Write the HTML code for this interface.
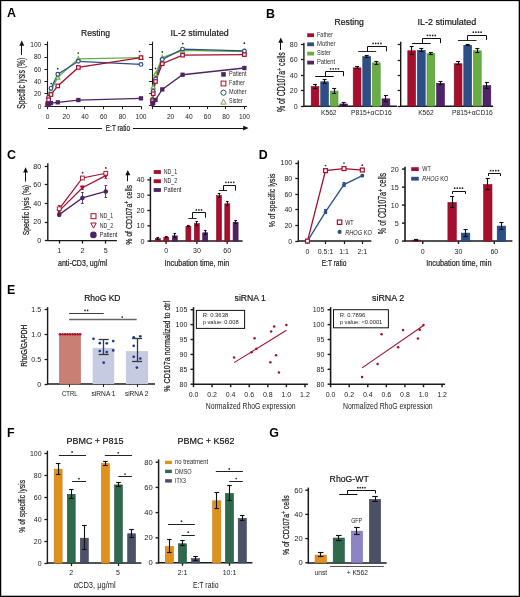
<!DOCTYPE html>
<html><head><meta charset="utf-8"><style>
html,body{margin:0;padding:0;background:#fff;}
svg{display:block;will-change:transform;}
text{font-family:"Liberation Sans", sans-serif;}
</style></head><body>
<svg width="520" height="597" viewBox="0 0 520 597" font-family='"Liberation Sans", sans-serif'>
<rect x="0" y="0" width="520" height="597" fill="#fff"/>
<rect x="0" y="0" width="520" height="1" fill="#000"/><rect x="0" y="0" width="1" height="597" fill="#000"/><rect x="519" y="0" width="1" height="597" fill="#000"/><rect x="0" y="596" width="520" height="1" fill="#000"/>
<rect x="1" y="1" width="1" height="595" fill="#000" opacity="0.25"/><rect x="1" y="1" width="518" height="1" fill="#000" opacity="0.12"/><rect x="518" y="1" width="1" height="595" fill="#000" opacity="0.3"/><rect x="1" y="595" width="517" height="1" fill="#000" opacity="0.3"/>
<text x="7.00" y="17.40" font-size="12.4" fill="#000" font-weight="bold">A</text>
<text x="266.00" y="17.50" font-size="12.4" fill="#000" font-weight="bold">B</text>
<text x="7.10" y="159.30" font-size="12.4" fill="#000" font-weight="bold">C</text>
<text x="258.70" y="158.90" font-size="12.4" fill="#000" font-weight="bold">D</text>
<text x="7.00" y="294.20" font-size="12.4" fill="#000" font-weight="bold">E</text>
<text x="7.00" y="437.20" font-size="12.4" fill="#000" font-weight="bold">F</text>
<text x="269.30" y="437.30" font-size="12.4" fill="#000" font-weight="bold">G</text>
<line x1="47.50" y1="41.50" x2="47.50" y2="106.70" stroke="#1a1a1a" stroke-width="1.1"/>
<line x1="44.50" y1="106.50" x2="47.50" y2="106.50" stroke="#1a1a1a" stroke-width="0.9900000000000001"/>
<text x="41.30" y="108.60" font-size="6.6" fill="#1c1c1c" text-anchor="end">0</text>
<line x1="44.50" y1="93.50" x2="47.50" y2="93.50" stroke="#1a1a1a" stroke-width="0.9900000000000001"/>
<text x="41.30" y="96.30" font-size="6.6" fill="#1c1c1c" text-anchor="end">20</text>
<line x1="44.50" y1="81.50" x2="47.50" y2="81.50" stroke="#1a1a1a" stroke-width="0.9900000000000001"/>
<text x="41.30" y="84.00" font-size="6.6" fill="#1c1c1c" text-anchor="end">40</text>
<line x1="44.50" y1="69.50" x2="47.50" y2="69.50" stroke="#1a1a1a" stroke-width="0.9900000000000001"/>
<text x="41.30" y="71.70" font-size="6.6" fill="#1c1c1c" text-anchor="end">60</text>
<line x1="44.50" y1="57.50" x2="47.50" y2="57.50" stroke="#1a1a1a" stroke-width="0.9900000000000001"/>
<text x="41.30" y="59.40" font-size="6.6" fill="#1c1c1c" text-anchor="end">80</text>
<line x1="44.50" y1="44.50" x2="47.50" y2="44.50" stroke="#1a1a1a" stroke-width="0.9900000000000001"/>
<text x="41.30" y="47.10" font-size="6.6" fill="#1c1c1c" text-anchor="end">100</text>
<line x1="47.00" y1="106.50" x2="141.50" y2="106.50" stroke="#1a1a1a" stroke-width="1.1"/>
<line x1="47.50" y1="106.20" x2="47.50" y2="109.20" stroke="#1a1a1a" stroke-width="0.9900000000000001"/>
<text x="47.50" y="118.60" font-size="6.6" fill="#1c1c1c" text-anchor="middle">0</text>
<line x1="66.50" y1="106.20" x2="66.50" y2="109.20" stroke="#1a1a1a" stroke-width="0.9900000000000001"/>
<text x="66.20" y="118.60" font-size="6.6" fill="#1c1c1c" text-anchor="middle">20</text>
<line x1="84.50" y1="106.20" x2="84.50" y2="109.20" stroke="#1a1a1a" stroke-width="0.9900000000000001"/>
<text x="84.90" y="118.60" font-size="6.6" fill="#1c1c1c" text-anchor="middle">40</text>
<line x1="103.50" y1="106.20" x2="103.50" y2="109.20" stroke="#1a1a1a" stroke-width="0.9900000000000001"/>
<text x="103.60" y="118.60" font-size="6.6" fill="#1c1c1c" text-anchor="middle">60</text>
<line x1="122.50" y1="106.20" x2="122.50" y2="109.20" stroke="#1a1a1a" stroke-width="0.9900000000000001"/>
<text x="122.30" y="118.60" font-size="6.6" fill="#1c1c1c" text-anchor="middle">80</text>
<line x1="141.50" y1="106.20" x2="141.50" y2="109.20" stroke="#1a1a1a" stroke-width="0.9900000000000001"/>
<text x="141.00" y="118.60" font-size="6.6" fill="#1c1c1c" text-anchor="middle">100</text>
<text x="95.55" y="35.90" font-size="9.6" fill="#111" stroke="#111" stroke-width="0.18" text-anchor="middle" textLength="28.90" lengthAdjust="spacingAndGlyphs">Resting</text>
<text x="24.90" y="83.20" font-size="10.0" fill="#1c1c1c" stroke="#1c1c1c" stroke-width="0.22" text-anchor="middle" textLength="51.00" lengthAdjust="spacingAndGlyphs" transform="rotate(-90 24.90 83.20)">Specific lysis (%)</text>
<line x1="21.50" y1="55.00" x2="21.50" y2="45.30" stroke="#111" stroke-width="1.0"/>
<polygon points="21.80,40.60 19.35,45.80 24.25,45.80" fill="#111"/>
<line x1="152.50" y1="41.70" x2="152.50" y2="106.40" stroke="#1a1a1a" stroke-width="1.1"/>
<line x1="149.10" y1="105.50" x2="152.10" y2="105.50" stroke="#1a1a1a" stroke-width="0.9900000000000001"/>
<line x1="149.10" y1="93.50" x2="152.10" y2="93.50" stroke="#1a1a1a" stroke-width="0.9900000000000001"/>
<line x1="149.10" y1="81.50" x2="152.10" y2="81.50" stroke="#1a1a1a" stroke-width="0.9900000000000001"/>
<line x1="149.10" y1="69.50" x2="152.10" y2="69.50" stroke="#1a1a1a" stroke-width="0.9900000000000001"/>
<line x1="149.10" y1="57.50" x2="152.10" y2="57.50" stroke="#1a1a1a" stroke-width="0.9900000000000001"/>
<line x1="149.10" y1="44.50" x2="152.10" y2="44.50" stroke="#1a1a1a" stroke-width="0.9900000000000001"/>
<line x1="151.60" y1="106.50" x2="247.00" y2="106.50" stroke="#1a1a1a" stroke-width="1.1"/>
<line x1="152.50" y1="106.10" x2="152.50" y2="109.10" stroke="#1a1a1a" stroke-width="0.9900000000000001"/>
<line x1="170.50" y1="106.10" x2="170.50" y2="109.10" stroke="#1a1a1a" stroke-width="0.9900000000000001"/>
<text x="170.56" y="118.60" font-size="6.6" fill="#1c1c1c" text-anchor="middle">20</text>
<line x1="189.50" y1="106.10" x2="189.50" y2="109.10" stroke="#1a1a1a" stroke-width="0.9900000000000001"/>
<text x="189.02" y="118.60" font-size="6.6" fill="#1c1c1c" text-anchor="middle">40</text>
<line x1="207.50" y1="106.10" x2="207.50" y2="109.10" stroke="#1a1a1a" stroke-width="0.9900000000000001"/>
<text x="207.48" y="118.60" font-size="6.6" fill="#1c1c1c" text-anchor="middle">60</text>
<line x1="225.50" y1="106.10" x2="225.50" y2="109.10" stroke="#1a1a1a" stroke-width="0.9900000000000001"/>
<text x="225.94" y="118.60" font-size="6.6" fill="#1c1c1c" text-anchor="middle">80</text>
<line x1="244.50" y1="106.10" x2="244.50" y2="109.10" stroke="#1a1a1a" stroke-width="0.9900000000000001"/>
<text x="244.40" y="118.60" font-size="6.6" fill="#1c1c1c" text-anchor="middle">100</text>
<text x="199.70" y="36.30" font-size="9.6" fill="#111" stroke="#111" stroke-width="0.18" text-anchor="middle" textLength="58.20" lengthAdjust="spacingAndGlyphs">IL-2 stimulated</text>
<line x1="48.00" y1="128.50" x2="101.90" y2="128.50" stroke="#111" stroke-width="1.0"/>
<text x="117.90" y="131.00" font-size="9.8" fill="#1c1c1c" stroke="#1c1c1c" stroke-width="0.22" text-anchor="middle" textLength="24.20" lengthAdjust="spacingAndGlyphs">E:T ratio</text>
<line x1="133.00" y1="128.50" x2="245.00" y2="128.50" stroke="#111" stroke-width="1.0"/>
<polygon points="248.6,128.1 243.2,125.8 243.2,130.4" fill="#111"/>
<polyline points="47.87,103.12 48.62,96.36 50.96,90.83 57.78,77.30 78.36,58.85 141.00,57.62" stroke="#69ad44" stroke-width="1.3" fill="none" stroke-linejoin="miter"/>
<polyline points="47.87,103.12 48.62,97.28 50.96,88.37 57.78,74.22 78.36,61.30 141.00,64.38" stroke="#2d4f88" stroke-width="1.3" fill="none" stroke-linejoin="miter"/>
<polyline points="47.87,103.74 48.62,99.74 50.96,94.52 57.78,85.91 78.36,67.46 141.00,57.62" stroke="#a50f2d" stroke-width="1.3" fill="none" stroke-linejoin="miter"/>
<polyline points="47.87,104.97 48.62,104.36 50.96,103.12 57.78,102.33 78.36,100.05 141.00,98.33" stroke="#4f2466" stroke-width="1.3" fill="none" stroke-linejoin="miter"/>
<polygon points="47.87,101.03 45.87,104.92 49.87,104.92" fill="#fff" stroke="#69ad44" stroke-width="1.2"/>
<polygon points="48.62,94.26 46.62,98.16 50.62,98.16" fill="#fff" stroke="#69ad44" stroke-width="1.2"/>
<polygon points="50.96,88.73 48.96,92.62 52.96,92.62" fill="#fff" stroke="#69ad44" stroke-width="1.2"/>
<polygon points="57.78,75.20 55.78,79.09 59.78,79.09" fill="#fff" stroke="#69ad44" stroke-width="1.2"/>
<polygon points="78.36,56.75 76.36,60.65 80.36,60.65" fill="#fff" stroke="#69ad44" stroke-width="1.2"/>
<polygon points="141.00,55.52 139.00,59.41 143.00,59.41" fill="#fff" stroke="#69ad44" stroke-width="1.2"/>
<circle cx="47.87" cy="103.12" r="1.85" fill="#fff" stroke="#2d4f88" stroke-width="1.2"/>
<circle cx="48.62" cy="97.28" r="1.85" fill="#fff" stroke="#2d4f88" stroke-width="1.2"/>
<circle cx="50.96" cy="88.37" r="1.85" fill="#fff" stroke="#2d4f88" stroke-width="1.2"/>
<circle cx="57.78" cy="74.22" r="1.85" fill="#fff" stroke="#2d4f88" stroke-width="1.2"/>
<circle cx="78.36" cy="61.30" r="1.85" fill="#fff" stroke="#2d4f88" stroke-width="1.2"/>
<circle cx="141.00" cy="64.38" r="1.85" fill="#fff" stroke="#2d4f88" stroke-width="1.2"/>
<rect x="46.12" y="101.99" width="3.50" height="3.50" fill="#fff" stroke="#a50f2d" stroke-width="1.2"/>
<rect x="46.87" y="97.99" width="3.50" height="3.50" fill="#fff" stroke="#a50f2d" stroke-width="1.2"/>
<rect x="49.21" y="92.77" width="3.50" height="3.50" fill="#fff" stroke="#a50f2d" stroke-width="1.2"/>
<rect x="56.03" y="84.16" width="3.50" height="3.50" fill="#fff" stroke="#a50f2d" stroke-width="1.2"/>
<rect x="76.61" y="65.71" width="3.50" height="3.50" fill="#fff" stroke="#a50f2d" stroke-width="1.2"/>
<rect x="139.25" y="55.87" width="3.50" height="3.50" fill="#fff" stroke="#a50f2d" stroke-width="1.2"/>
<rect x="45.72" y="102.82" width="4.30" height="4.30" fill="#4f2466"/>
<rect x="46.47" y="102.20" width="4.30" height="4.30" fill="#4f2466"/>
<rect x="48.81" y="100.97" width="4.30" height="4.30" fill="#4f2466"/>
<rect x="55.63" y="100.18" width="4.30" height="4.30" fill="#4f2466"/>
<rect x="76.20" y="97.90" width="4.30" height="4.30" fill="#4f2466"/>
<rect x="138.85" y="96.18" width="4.30" height="4.30" fill="#4f2466"/>
<polyline points="152.47,98.57 153.21,86.96 155.52,74.13 162.25,57.63 182.56,50.30 244.40,51.52" stroke="#69ad44" stroke-width="1.3" fill="none" stroke-linejoin="miter"/>
<polyline points="152.47,99.79 153.21,91.24 155.52,79.02 162.25,59.46 182.56,49.08 244.40,50.91" stroke="#2d4f88" stroke-width="1.3" fill="none" stroke-linejoin="miter"/>
<polyline points="152.47,100.83 153.21,93.68 155.52,81.46 162.25,63.74 182.56,55.19 244.40,54.58" stroke="#a50f2d" stroke-width="1.3" fill="none" stroke-linejoin="miter"/>
<polyline points="152.47,103.70 153.21,102.84 155.52,99.97 162.25,89.40 182.56,74.74 244.40,68.02" stroke="#4f2466" stroke-width="1.3" fill="none" stroke-linejoin="miter"/>
<polygon points="152.47,96.47 150.47,100.37 154.47,100.37" fill="#fff" stroke="#69ad44" stroke-width="1.2"/>
<polygon points="153.21,84.86 151.21,88.76 155.21,88.76" fill="#fff" stroke="#69ad44" stroke-width="1.2"/>
<polygon points="155.52,72.03 153.52,75.93 157.52,75.93" fill="#fff" stroke="#69ad44" stroke-width="1.2"/>
<polygon points="162.25,55.53 160.25,59.43 164.25,59.43" fill="#fff" stroke="#69ad44" stroke-width="1.2"/>
<polygon points="182.56,48.20 180.56,52.10 184.56,52.10" fill="#fff" stroke="#69ad44" stroke-width="1.2"/>
<polygon points="244.40,49.42 242.40,53.32 246.40,53.32" fill="#fff" stroke="#69ad44" stroke-width="1.2"/>
<circle cx="152.47" cy="99.79" r="1.85" fill="#fff" stroke="#2d4f88" stroke-width="1.2"/>
<circle cx="153.21" cy="91.24" r="1.85" fill="#fff" stroke="#2d4f88" stroke-width="1.2"/>
<circle cx="155.52" cy="79.02" r="1.85" fill="#fff" stroke="#2d4f88" stroke-width="1.2"/>
<circle cx="162.25" cy="59.46" r="1.85" fill="#fff" stroke="#2d4f88" stroke-width="1.2"/>
<circle cx="182.56" cy="49.08" r="1.85" fill="#fff" stroke="#2d4f88" stroke-width="1.2"/>
<circle cx="244.40" cy="50.91" r="1.85" fill="#fff" stroke="#2d4f88" stroke-width="1.2"/>
<rect x="150.72" y="99.08" width="3.50" height="3.50" fill="#fff" stroke="#a50f2d" stroke-width="1.2"/>
<rect x="151.46" y="91.93" width="3.50" height="3.50" fill="#fff" stroke="#a50f2d" stroke-width="1.2"/>
<rect x="153.77" y="79.71" width="3.50" height="3.50" fill="#fff" stroke="#a50f2d" stroke-width="1.2"/>
<rect x="160.50" y="61.99" width="3.50" height="3.50" fill="#fff" stroke="#a50f2d" stroke-width="1.2"/>
<rect x="180.81" y="53.44" width="3.50" height="3.50" fill="#fff" stroke="#a50f2d" stroke-width="1.2"/>
<rect x="242.65" y="52.83" width="3.50" height="3.50" fill="#fff" stroke="#a50f2d" stroke-width="1.2"/>
<rect x="150.32" y="101.55" width="4.30" height="4.30" fill="#4f2466"/>
<rect x="151.06" y="100.69" width="4.30" height="4.30" fill="#4f2466"/>
<rect x="153.37" y="97.82" width="4.30" height="4.30" fill="#4f2466"/>
<rect x="160.10" y="87.25" width="4.30" height="4.30" fill="#4f2466"/>
<rect x="180.41" y="72.59" width="4.30" height="4.30" fill="#4f2466"/>
<rect x="242.25" y="65.87" width="4.30" height="4.30" fill="#4f2466"/>
<circle cx="51.20" cy="83.50" r="0.85" fill="#222"/>
<circle cx="57.70" cy="68.70" r="0.85" fill="#222"/>
<circle cx="78.30" cy="53.10" r="0.85" fill="#222"/>
<circle cx="139.60" cy="51.50" r="0.85" fill="#222"/>
<circle cx="155.50" cy="68.40" r="0.85" fill="#222"/>
<circle cx="162.30" cy="51.90" r="0.85" fill="#222"/>
<circle cx="182.80" cy="43.60" r="0.85" fill="#222"/>
<circle cx="244.30" cy="43.20" r="0.85" fill="#222"/>
<rect x="221.20" y="72.10" width="4.60" height="4.60" fill="#4f2466"/>
<text x="229.10" y="76.00" font-size="6.4" fill="#2a2a2a" textLength="17.40" lengthAdjust="spacingAndGlyphs">Patient</text>
<rect x="221.10" y="81.10" width="4.80" height="4.80" fill="#fff" stroke="#a50f2d" stroke-width="1.0"/>
<text x="229.10" y="85.10" font-size="6.4" fill="#2a2a2a" textLength="15.60" lengthAdjust="spacingAndGlyphs">Father</text>
<circle cx="223.50" cy="92.70" r="2.60" fill="#fff" stroke="#2d4f88" stroke-width="1.0"/>
<text x="229.10" y="94.30" font-size="6.4" fill="#2a2a2a" textLength="17.40" lengthAdjust="spacingAndGlyphs">Mother</text>
<polygon points="223.50,99.16 220.90,104.14 226.10,104.14" fill="#fff" stroke="#69ad44" stroke-width="1.0"/>
<text x="229.10" y="103.40" font-size="6.4" fill="#2a2a2a" textLength="13.60" lengthAdjust="spacingAndGlyphs">Sister</text>
<line x1="303.90" y1="42.80" x2="303.90" y2="106.80" stroke="#1a1a1a" stroke-width="1.4"/>
<line x1="300.90" y1="106.50" x2="303.90" y2="106.50" stroke="#1a1a1a" stroke-width="1.26"/>
<text x="297.60" y="108.70" font-size="7.0" fill="#1c1c1c" text-anchor="end">0</text>
<line x1="300.90" y1="90.50" x2="303.90" y2="90.50" stroke="#1a1a1a" stroke-width="1.26"/>
<text x="297.60" y="93.20" font-size="7.0" fill="#1c1c1c" text-anchor="end">20</text>
<line x1="300.90" y1="75.50" x2="303.90" y2="75.50" stroke="#1a1a1a" stroke-width="1.26"/>
<text x="297.60" y="77.70" font-size="7.0" fill="#1c1c1c" text-anchor="end">40</text>
<line x1="300.90" y1="59.50" x2="303.90" y2="59.50" stroke="#1a1a1a" stroke-width="1.26"/>
<text x="297.60" y="62.20" font-size="7.0" fill="#1c1c1c" text-anchor="end">60</text>
<line x1="300.90" y1="44.50" x2="303.90" y2="44.50" stroke="#1a1a1a" stroke-width="1.26"/>
<text x="297.60" y="46.70" font-size="7.0" fill="#1c1c1c" text-anchor="end">80</text>
<line x1="303.40" y1="106.20" x2="397.00" y2="106.20" stroke="#1a1a1a" stroke-width="1.4"/>
<text x="349.20" y="24.70" font-size="9.6" fill="#111" stroke="#111" stroke-width="0.18" text-anchor="middle" textLength="29.20" lengthAdjust="spacingAndGlyphs">Resting</text>
<text x="285.10" y="82.10" font-size="10.0" fill="#1c1c1c" stroke="#1c1c1c" stroke-width="0.22" text-anchor="middle" textLength="59.80" lengthAdjust="spacingAndGlyphs" transform="rotate(-90 285.10 82.10)">% of CD107a<tspan baseline-shift="super" font-size="7">+</tspan> cells</text>
<line x1="280.50" y1="50.00" x2="280.50" y2="42.20" stroke="#111" stroke-width="1.0"/>
<polygon points="280.80,37.50 278.35,42.70 283.25,42.70" fill="#111"/>
<rect x="311.20" y="86.45" width="7.70" height="19.85" fill="#a50f2d" stroke="#8c0a24" stroke-width="0.6"/>
<line x1="315.50" y1="84.29" x2="315.50" y2="88.01" stroke="#111" stroke-width="1.1"/>
<line x1="313.05" y1="84.50" x2="317.05" y2="84.50" stroke="#111" stroke-width="1.1"/>
<line x1="313.05" y1="88.50" x2="317.05" y2="88.50" stroke="#111" stroke-width="1.1"/>
<rect x="320.75" y="81.80" width="7.70" height="24.50" fill="#2d4f88" stroke="#1e3a6c" stroke-width="0.6"/>
<line x1="324.50" y1="79.33" x2="324.50" y2="83.67" stroke="#111" stroke-width="1.1"/>
<line x1="322.60" y1="79.50" x2="326.60" y2="79.50" stroke="#111" stroke-width="1.1"/>
<line x1="322.60" y1="83.50" x2="326.60" y2="83.50" stroke="#111" stroke-width="1.1"/>
<rect x="330.30" y="91.10" width="7.70" height="15.20" fill="#69ad44" stroke="#4f9030" stroke-width="0.6"/>
<line x1="334.50" y1="88.09" x2="334.50" y2="93.51" stroke="#111" stroke-width="1.1"/>
<line x1="332.15" y1="88.50" x2="336.15" y2="88.50" stroke="#111" stroke-width="1.1"/>
<line x1="332.15" y1="93.50" x2="336.15" y2="93.50" stroke="#111" stroke-width="1.1"/>
<rect x="339.85" y="103.96" width="7.70" height="2.34" fill="#4f2466" stroke="#3a1250" stroke-width="0.6"/>
<line x1="343.50" y1="102.11" x2="343.50" y2="105.22" stroke="#111" stroke-width="1.1"/>
<line x1="341.70" y1="102.50" x2="345.70" y2="102.50" stroke="#111" stroke-width="1.1"/>
<line x1="341.70" y1="105.50" x2="345.70" y2="105.50" stroke="#111" stroke-width="1.1"/>
<rect x="353.20" y="67.85" width="7.80" height="38.45" fill="#a50f2d" stroke="#8c0a24" stroke-width="0.6"/>
<line x1="357.50" y1="66.62" x2="357.50" y2="68.48" stroke="#111" stroke-width="1.1"/>
<line x1="355.10" y1="66.50" x2="359.10" y2="66.50" stroke="#111" stroke-width="1.1"/>
<line x1="355.10" y1="68.50" x2="359.10" y2="68.50" stroke="#111" stroke-width="1.1"/>
<rect x="362.80" y="56.61" width="7.80" height="49.69" fill="#2d4f88" stroke="#1e3a6c" stroke-width="0.6"/>
<line x1="366.50" y1="55.15" x2="366.50" y2="57.47" stroke="#111" stroke-width="1.1"/>
<line x1="364.70" y1="55.50" x2="368.70" y2="55.50" stroke="#111" stroke-width="1.1"/>
<line x1="364.70" y1="57.50" x2="368.70" y2="57.50" stroke="#111" stroke-width="1.1"/>
<rect x="372.40" y="62.89" width="7.80" height="43.41" fill="#69ad44" stroke="#4f9030" stroke-width="0.6"/>
<line x1="376.50" y1="61.04" x2="376.50" y2="64.14" stroke="#111" stroke-width="1.1"/>
<line x1="374.30" y1="61.50" x2="378.30" y2="61.50" stroke="#111" stroke-width="1.1"/>
<line x1="374.30" y1="64.50" x2="378.30" y2="64.50" stroke="#111" stroke-width="1.1"/>
<rect x="382.00" y="98.85" width="7.80" height="7.45" fill="#4f2466" stroke="#3a1250" stroke-width="0.6"/>
<line x1="385.50" y1="95.84" x2="385.50" y2="101.26" stroke="#111" stroke-width="1.1"/>
<line x1="383.90" y1="95.50" x2="387.90" y2="95.50" stroke="#111" stroke-width="1.1"/>
<line x1="383.90" y1="101.50" x2="387.90" y2="101.50" stroke="#111" stroke-width="1.1"/>
<line x1="315.20" y1="76.50" x2="333.70" y2="76.50" stroke="#111" stroke-width="1.0"/>
<polyline points="325.50,76.40 325.50,71.50 343.50,71.50 343.50,76.20" stroke="#111" stroke-width="1.0" fill="none" stroke-linejoin="miter"/>
<circle cx="330.60" cy="68.80" r="0.85" fill="#222"/>
<circle cx="333.20" cy="68.80" r="0.85" fill="#222"/>
<circle cx="335.80" cy="68.80" r="0.85" fill="#222"/>
<circle cx="338.40" cy="68.80" r="0.85" fill="#222"/>
<line x1="358.20" y1="51.50" x2="376.20" y2="51.50" stroke="#111" stroke-width="0.9"/>
<polyline points="367.50,51.40 367.50,46.50 386.50,46.50 386.50,51.40" stroke="#111" stroke-width="1.0" fill="none" stroke-linejoin="miter"/>
<circle cx="373.10" cy="43.40" r="0.85" fill="#222"/>
<circle cx="375.70" cy="43.40" r="0.85" fill="#222"/>
<circle cx="378.30" cy="43.40" r="0.85" fill="#222"/>
<circle cx="380.90" cy="43.40" r="0.85" fill="#222"/>
<text x="328.80" y="115.30" font-size="7.0" fill="#1c1c1c" text-anchor="middle" textLength="15.50" lengthAdjust="spacingAndGlyphs">K562</text>
<text x="371.30" y="115.30" font-size="7.0" fill="#1c1c1c" text-anchor="middle" textLength="40.80" lengthAdjust="spacingAndGlyphs">P815+αCD16</text>
<rect x="307.20" y="33.30" width="6.80" height="3.80" fill="#a50f2d"/>
<text x="317.00" y="36.90" font-size="6.6" fill="#2e2e2e" textLength="15.80" lengthAdjust="spacingAndGlyphs">Father</text>
<rect x="307.20" y="42.40" width="6.80" height="3.80" fill="#2d4f88"/>
<text x="317.00" y="46.00" font-size="6.6" fill="#2e2e2e" textLength="18.50" lengthAdjust="spacingAndGlyphs">Mother</text>
<rect x="307.20" y="51.70" width="6.80" height="3.80" fill="#69ad44"/>
<text x="317.00" y="55.30" font-size="6.6" fill="#2e2e2e" textLength="13.80" lengthAdjust="spacingAndGlyphs">Sister</text>
<rect x="307.20" y="60.70" width="6.80" height="3.80" fill="#4f2466"/>
<text x="317.00" y="64.30" font-size="6.6" fill="#2e2e2e" textLength="18.00" lengthAdjust="spacingAndGlyphs">Patient</text>
<line x1="400.70" y1="41.80" x2="400.70" y2="106.60" stroke="#1a1a1a" stroke-width="1.4"/>
<line x1="397.70" y1="106.50" x2="400.70" y2="106.50" stroke="#1a1a1a" stroke-width="1.26"/>
<line x1="397.70" y1="90.50" x2="400.70" y2="90.50" stroke="#1a1a1a" stroke-width="1.26"/>
<line x1="397.70" y1="75.50" x2="400.70" y2="75.50" stroke="#1a1a1a" stroke-width="1.26"/>
<line x1="397.70" y1="60.50" x2="400.70" y2="60.50" stroke="#1a1a1a" stroke-width="1.26"/>
<line x1="397.70" y1="44.50" x2="400.70" y2="44.50" stroke="#1a1a1a" stroke-width="1.26"/>
<line x1="400.20" y1="106.20" x2="493.20" y2="106.20" stroke="#1a1a1a" stroke-width="1.4"/>
<text x="446.90" y="24.80" font-size="9.6" fill="#111" stroke="#111" stroke-width="0.18" text-anchor="middle" textLength="58.80" lengthAdjust="spacingAndGlyphs">IL-2 stimulated</text>
<rect x="407.80" y="50.76" width="7.80" height="55.34" fill="#a50f2d" stroke="#8c0a24" stroke-width="0.6"/>
<line x1="411.50" y1="46.77" x2="411.50" y2="54.14" stroke="#111" stroke-width="1.1"/>
<line x1="409.70" y1="46.50" x2="413.70" y2="46.50" stroke="#111" stroke-width="1.1"/>
<line x1="409.70" y1="54.50" x2="413.70" y2="54.50" stroke="#111" stroke-width="1.1"/>
<rect x="417.40" y="50.37" width="7.80" height="55.73" fill="#2d4f88" stroke="#1e3a6c" stroke-width="0.6"/>
<line x1="421.50" y1="48.15" x2="421.50" y2="51.99" stroke="#111" stroke-width="1.1"/>
<line x1="419.30" y1="48.50" x2="423.30" y2="48.50" stroke="#111" stroke-width="1.1"/>
<line x1="419.30" y1="51.50" x2="423.30" y2="51.50" stroke="#111" stroke-width="1.1"/>
<rect x="427.00" y="53.67" width="7.80" height="52.43" fill="#69ad44" stroke="#4f9030" stroke-width="0.6"/>
<line x1="430.50" y1="52.22" x2="430.50" y2="54.52" stroke="#111" stroke-width="1.1"/>
<line x1="428.90" y1="52.50" x2="432.90" y2="52.50" stroke="#111" stroke-width="1.1"/>
<line x1="428.90" y1="54.50" x2="432.90" y2="54.50" stroke="#111" stroke-width="1.1"/>
<rect x="436.60" y="83.37" width="7.80" height="22.73" fill="#4f2466" stroke="#3a1250" stroke-width="0.6"/>
<line x1="440.50" y1="81.69" x2="440.50" y2="84.46" stroke="#111" stroke-width="1.1"/>
<line x1="438.50" y1="81.50" x2="442.50" y2="81.50" stroke="#111" stroke-width="1.1"/>
<line x1="438.50" y1="84.50" x2="442.50" y2="84.50" stroke="#111" stroke-width="1.1"/>
<rect x="454.20" y="63.73" width="7.80" height="42.37" fill="#a50f2d" stroke="#8c0a24" stroke-width="0.6"/>
<line x1="458.50" y1="61.89" x2="458.50" y2="64.96" stroke="#111" stroke-width="1.1"/>
<line x1="456.10" y1="61.50" x2="460.10" y2="61.50" stroke="#111" stroke-width="1.1"/>
<line x1="456.10" y1="64.50" x2="460.10" y2="64.50" stroke="#111" stroke-width="1.1"/>
<rect x="463.80" y="45.31" width="7.80" height="60.79" fill="#2d4f88" stroke="#1e3a6c" stroke-width="0.6"/>
<line x1="467.50" y1="44.24" x2="467.50" y2="45.77" stroke="#111" stroke-width="1.1"/>
<line x1="465.70" y1="44.50" x2="469.70" y2="44.50" stroke="#111" stroke-width="1.1"/>
<line x1="465.70" y1="45.50" x2="469.70" y2="45.50" stroke="#111" stroke-width="1.1"/>
<rect x="473.40" y="50.83" width="7.80" height="55.27" fill="#69ad44" stroke="#4f9030" stroke-width="0.6"/>
<line x1="477.50" y1="48.61" x2="477.50" y2="52.45" stroke="#111" stroke-width="1.1"/>
<line x1="475.30" y1="48.50" x2="479.30" y2="48.50" stroke="#111" stroke-width="1.1"/>
<line x1="475.30" y1="52.50" x2="479.30" y2="52.50" stroke="#111" stroke-width="1.1"/>
<rect x="483.00" y="85.68" width="7.80" height="20.42" fill="#4f2466" stroke="#3a1250" stroke-width="0.6"/>
<line x1="486.50" y1="82.31" x2="486.50" y2="88.45" stroke="#111" stroke-width="1.1"/>
<line x1="484.90" y1="82.50" x2="488.90" y2="82.50" stroke="#111" stroke-width="1.1"/>
<line x1="484.90" y1="88.50" x2="488.90" y2="88.50" stroke="#111" stroke-width="1.1"/>
<line x1="412.10" y1="43.50" x2="430.70" y2="43.50" stroke="#111" stroke-width="1.0"/>
<polyline points="422.50,43.50 422.50,38.50 440.50,38.50 440.50,43.10" stroke="#111" stroke-width="1.0" fill="none" stroke-linejoin="miter"/>
<circle cx="427.50" cy="35.40" r="0.85" fill="#222"/>
<circle cx="430.10" cy="35.40" r="0.85" fill="#222"/>
<circle cx="432.70" cy="35.40" r="0.85" fill="#222"/>
<circle cx="435.30" cy="35.40" r="0.85" fill="#222"/>
<line x1="458.00" y1="40.50" x2="476.50" y2="40.50" stroke="#111" stroke-width="0.9"/>
<polyline points="467.50,40.10 467.50,35.50 486.50,35.50 486.50,39.90" stroke="#111" stroke-width="1.0" fill="none" stroke-linejoin="miter"/>
<circle cx="473.30" cy="32.20" r="0.85" fill="#222"/>
<circle cx="475.90" cy="32.20" r="0.85" fill="#222"/>
<circle cx="478.50" cy="32.20" r="0.85" fill="#222"/>
<circle cx="481.10" cy="32.20" r="0.85" fill="#222"/>
<text x="425.90" y="115.30" font-size="7.0" fill="#1c1c1c" text-anchor="middle" textLength="15.50" lengthAdjust="spacingAndGlyphs">K562</text>
<text x="472.40" y="115.30" font-size="7.0" fill="#1c1c1c" text-anchor="middle" textLength="40.80" lengthAdjust="spacingAndGlyphs">P815+αCD16</text>
<line x1="47.80" y1="163.30" x2="47.80" y2="241.10" stroke="#1a1a1a" stroke-width="1.4"/>
<line x1="44.80" y1="240.50" x2="47.80" y2="240.50" stroke="#1a1a1a" stroke-width="1.26"/>
<text x="41.30" y="243.00" font-size="7.2" fill="#1c1c1c" text-anchor="end">0</text>
<line x1="44.80" y1="222.50" x2="47.80" y2="222.50" stroke="#1a1a1a" stroke-width="1.26"/>
<text x="41.30" y="224.45" font-size="7.2" fill="#1c1c1c" text-anchor="end">20</text>
<line x1="44.80" y1="203.50" x2="47.80" y2="203.50" stroke="#1a1a1a" stroke-width="1.26"/>
<text x="41.30" y="205.90" font-size="7.2" fill="#1c1c1c" text-anchor="end">40</text>
<line x1="44.80" y1="184.50" x2="47.80" y2="184.50" stroke="#1a1a1a" stroke-width="1.26"/>
<text x="41.30" y="187.35" font-size="7.2" fill="#1c1c1c" text-anchor="end">60</text>
<line x1="44.80" y1="166.50" x2="47.80" y2="166.50" stroke="#1a1a1a" stroke-width="1.26"/>
<text x="41.30" y="168.80" font-size="7.2" fill="#1c1c1c" text-anchor="end">80</text>
<line x1="47.30" y1="240.60" x2="116.90" y2="240.60" stroke="#1a1a1a" stroke-width="1.4"/>
<line x1="59.50" y1="240.60" x2="59.50" y2="243.60" stroke="#1a1a1a" stroke-width="1.26"/>
<text x="59.20" y="253.20" font-size="7.0" fill="#1c1c1c" text-anchor="middle">1</text>
<line x1="82.50" y1="240.60" x2="82.50" y2="243.60" stroke="#1a1a1a" stroke-width="1.26"/>
<text x="82.40" y="253.20" font-size="7.0" fill="#1c1c1c" text-anchor="middle">2</text>
<line x1="105.50" y1="240.60" x2="105.50" y2="243.60" stroke="#1a1a1a" stroke-width="1.26"/>
<text x="105.80" y="253.20" font-size="7.0" fill="#1c1c1c" text-anchor="middle">5</text>
<text x="82.55" y="265.70" font-size="9.3" fill="#1c1c1c" stroke="#1c1c1c" stroke-width="0.22" text-anchor="middle" textLength="49.10" lengthAdjust="spacingAndGlyphs">anti-CD3, ug/ml</text>
<text x="28.70" y="210.10" font-size="9.2" fill="#1c1c1c" stroke="#1c1c1c" stroke-width="0.22" text-anchor="middle" textLength="50.30" lengthAdjust="spacingAndGlyphs" transform="rotate(-90 28.70 210.10)">Specific lysis (%)</text>
<line x1="25.50" y1="181.60" x2="25.50" y2="172.00" stroke="#111" stroke-width="1.0"/>
<polygon points="25.60,167.30 23.15,172.50 28.05,172.50" fill="#111"/>
<polyline points="59.20,214.63 82.40,197.94 105.80,191.44" stroke="#4f2466" stroke-width="1.25" fill="none" stroke-linejoin="miter"/>
<polyline points="59.20,210.92 82.40,187.73 105.80,175.68" stroke="#a50f2d" stroke-width="1.25" fill="none" stroke-linejoin="miter"/>
<polyline points="59.20,208.79 82.40,177.99 105.80,173.26" stroke="#a50f2d" stroke-width="1.25" fill="none" stroke-linejoin="miter"/>
<line x1="59.50" y1="213.24" x2="59.50" y2="216.02" stroke="#4f2466" stroke-width="0.9"/>
<line x1="57.90" y1="213.50" x2="60.50" y2="213.50" stroke="#4f2466" stroke-width="0.9"/>
<line x1="57.90" y1="216.50" x2="60.50" y2="216.50" stroke="#4f2466" stroke-width="0.9"/>
<circle cx="59.20" cy="214.63" r="2.30" fill="#4f2466"/>
<line x1="82.50" y1="192.37" x2="82.50" y2="203.50" stroke="#4f2466" stroke-width="0.9"/>
<line x1="81.10" y1="192.50" x2="83.70" y2="192.50" stroke="#4f2466" stroke-width="0.9"/>
<line x1="81.10" y1="203.50" x2="83.70" y2="203.50" stroke="#4f2466" stroke-width="0.9"/>
<circle cx="82.40" cy="197.94" r="2.30" fill="#4f2466"/>
<line x1="105.50" y1="185.88" x2="105.50" y2="197.01" stroke="#4f2466" stroke-width="0.9"/>
<line x1="104.50" y1="185.50" x2="107.10" y2="185.50" stroke="#4f2466" stroke-width="0.9"/>
<line x1="104.50" y1="197.50" x2="107.10" y2="197.50" stroke="#4f2466" stroke-width="0.9"/>
<circle cx="105.80" cy="191.44" r="2.30" fill="#4f2466"/>
<line x1="59.50" y1="209.06" x2="59.50" y2="212.78" stroke="#a50f2d" stroke-width="0.9"/>
<line x1="57.90" y1="209.50" x2="60.50" y2="209.50" stroke="#a50f2d" stroke-width="0.9"/>
<line x1="57.90" y1="212.50" x2="60.50" y2="212.50" stroke="#a50f2d" stroke-width="0.9"/>
<polygon points="59.20,213.02 57.20,209.12 61.20,209.12" fill="#a50f2d" stroke="#a50f2d" stroke-width="0.9"/>
<line x1="82.50" y1="186.34" x2="82.50" y2="189.12" stroke="#a50f2d" stroke-width="0.9"/>
<line x1="81.10" y1="186.50" x2="83.70" y2="186.50" stroke="#a50f2d" stroke-width="0.9"/>
<line x1="81.10" y1="189.50" x2="83.70" y2="189.50" stroke="#a50f2d" stroke-width="0.9"/>
<polygon points="82.40,189.83 80.40,185.93 84.40,185.93" fill="#a50f2d" stroke="#a50f2d" stroke-width="0.9"/>
<line x1="105.50" y1="172.89" x2="105.50" y2="178.46" stroke="#a50f2d" stroke-width="0.9"/>
<line x1="104.50" y1="172.50" x2="107.10" y2="172.50" stroke="#a50f2d" stroke-width="0.9"/>
<line x1="104.50" y1="178.50" x2="107.10" y2="178.50" stroke="#a50f2d" stroke-width="0.9"/>
<polygon points="105.80,177.78 103.80,173.88 107.80,173.88" fill="#a50f2d" stroke="#a50f2d" stroke-width="0.9"/>
<line x1="59.50" y1="205.08" x2="59.50" y2="212.50" stroke="#a50f2d" stroke-width="0.9"/>
<line x1="57.90" y1="205.50" x2="60.50" y2="205.50" stroke="#a50f2d" stroke-width="0.9"/>
<line x1="57.90" y1="212.50" x2="60.50" y2="212.50" stroke="#a50f2d" stroke-width="0.9"/>
<rect x="57.30" y="206.89" width="3.80" height="3.80" fill="#fff" stroke="#a50f2d" stroke-width="0.9"/>
<line x1="82.50" y1="176.60" x2="82.50" y2="179.38" stroke="#a50f2d" stroke-width="0.9"/>
<line x1="81.10" y1="176.50" x2="83.70" y2="176.50" stroke="#a50f2d" stroke-width="0.9"/>
<line x1="81.10" y1="179.50" x2="83.70" y2="179.50" stroke="#a50f2d" stroke-width="0.9"/>
<rect x="80.50" y="176.09" width="3.80" height="3.80" fill="#fff" stroke="#a50f2d" stroke-width="0.9"/>
<line x1="105.50" y1="171.41" x2="105.50" y2="175.12" stroke="#a50f2d" stroke-width="0.9"/>
<line x1="104.50" y1="171.50" x2="107.10" y2="171.50" stroke="#a50f2d" stroke-width="0.9"/>
<line x1="104.50" y1="175.50" x2="107.10" y2="175.50" stroke="#a50f2d" stroke-width="0.9"/>
<rect x="103.90" y="171.36" width="3.80" height="3.80" fill="#fff" stroke="#a50f2d" stroke-width="0.9"/>
<circle cx="82.60" cy="172.70" r="0.85" fill="#222"/>
<circle cx="105.80" cy="167.90" r="0.85" fill="#222"/>
<rect x="91.00" y="213.70" width="5.00" height="5.00" fill="#fff" stroke="#a50f2d" stroke-width="1.0"/>
<text x="99.70" y="218.40" font-size="6.4" fill="#1c1c1c" textLength="13.50" lengthAdjust="spacingAndGlyphs">ND_1</text>
<polygon points="93.50,228.13 90.80,222.97 96.20,222.97" fill="#fff" stroke="#a50f2d" stroke-width="1.0"/>
<text x="99.70" y="227.60" font-size="6.4" fill="#1c1c1c" textLength="13.50" lengthAdjust="spacingAndGlyphs">ND_2</text>
<circle cx="93.40" cy="234.90" r="3.30" fill="#4f2466"/>
<text x="99.70" y="236.90" font-size="6.4" fill="#1c1c1c" textLength="17.70" lengthAdjust="spacingAndGlyphs">Patient</text>
<line x1="150.40" y1="177.00" x2="150.40" y2="241.60" stroke="#1a1a1a" stroke-width="1.5"/>
<line x1="147.40" y1="241.10" x2="150.40" y2="241.10" stroke="#1a1a1a" stroke-width="1.35"/>
<text x="144.60" y="243.50" font-size="7.2" fill="#1c1c1c" text-anchor="end">0</text>
<line x1="147.40" y1="225.80" x2="150.40" y2="225.80" stroke="#1a1a1a" stroke-width="1.35"/>
<text x="144.60" y="228.20" font-size="7.2" fill="#1c1c1c" text-anchor="end">10</text>
<line x1="147.40" y1="210.50" x2="150.40" y2="210.50" stroke="#1a1a1a" stroke-width="1.35"/>
<text x="144.60" y="212.90" font-size="7.2" fill="#1c1c1c" text-anchor="end">20</text>
<line x1="147.40" y1="195.20" x2="150.40" y2="195.20" stroke="#1a1a1a" stroke-width="1.35"/>
<text x="144.60" y="197.60" font-size="7.2" fill="#1c1c1c" text-anchor="end">30</text>
<line x1="147.40" y1="179.90" x2="150.40" y2="179.90" stroke="#1a1a1a" stroke-width="1.35"/>
<text x="144.60" y="182.30" font-size="7.2" fill="#1c1c1c" text-anchor="end">40</text>
<line x1="149.50" y1="241.10" x2="242.60" y2="241.10" stroke="#1a1a1a" stroke-width="1.5"/>
<line x1="166.10" y1="241.10" x2="166.10" y2="244.10" stroke="#1a1a1a" stroke-width="1.35"/>
<text x="166.10" y="253.40" font-size="7.0" fill="#1c1c1c" text-anchor="middle">0</text>
<line x1="196.90" y1="241.10" x2="196.90" y2="244.10" stroke="#1a1a1a" stroke-width="1.35"/>
<text x="196.90" y="253.40" font-size="7.0" fill="#1c1c1c" text-anchor="middle">30</text>
<line x1="227.20" y1="241.10" x2="227.20" y2="244.10" stroke="#1a1a1a" stroke-width="1.35"/>
<text x="227.20" y="253.40" font-size="7.0" fill="#1c1c1c" text-anchor="middle">60</text>
<rect x="155.30" y="238.65" width="5.00" height="2.45" fill="#a50f2d" stroke="#8c0a24" stroke-width="0.6"/>
<line x1="157.50" y1="237.43" x2="157.50" y2="239.26" stroke="#111" stroke-width="1.1"/>
<line x1="156.50" y1="237.50" x2="159.10" y2="237.50" stroke="#111" stroke-width="1.1"/>
<line x1="156.50" y1="239.50" x2="159.10" y2="239.50" stroke="#111" stroke-width="1.1"/>
<rect x="163.80" y="237.27" width="5.00" height="3.83" fill="#a50f2d" stroke="#8c0a24" stroke-width="0.6"/>
<line x1="166.50" y1="236.05" x2="166.50" y2="237.89" stroke="#111" stroke-width="1.1"/>
<line x1="165.00" y1="236.50" x2="167.60" y2="236.50" stroke="#111" stroke-width="1.1"/>
<line x1="165.00" y1="237.50" x2="167.60" y2="237.50" stroke="#111" stroke-width="1.1"/>
<rect x="172.30" y="235.89" width="5.00" height="5.21" fill="#4f2466" stroke="#3a1250" stroke-width="0.6"/>
<line x1="174.50" y1="233.76" x2="174.50" y2="237.43" stroke="#111" stroke-width="1.1"/>
<line x1="173.50" y1="233.50" x2="176.10" y2="233.50" stroke="#111" stroke-width="1.1"/>
<line x1="173.50" y1="237.50" x2="176.10" y2="237.50" stroke="#111" stroke-width="1.1"/>
<rect x="185.90" y="226.25" width="5.00" height="14.85" fill="#a50f2d" stroke="#8c0a24" stroke-width="0.6"/>
<line x1="188.50" y1="225.19" x2="188.50" y2="226.72" stroke="#111" stroke-width="1.1"/>
<line x1="187.10" y1="225.50" x2="189.70" y2="225.50" stroke="#111" stroke-width="1.1"/>
<line x1="187.10" y1="226.50" x2="189.70" y2="226.50" stroke="#111" stroke-width="1.1"/>
<rect x="194.30" y="223.65" width="5.00" height="17.45" fill="#a50f2d" stroke="#8c0a24" stroke-width="0.6"/>
<line x1="196.50" y1="221.52" x2="196.50" y2="225.19" stroke="#111" stroke-width="1.1"/>
<line x1="195.50" y1="221.50" x2="198.10" y2="221.50" stroke="#111" stroke-width="1.1"/>
<line x1="195.50" y1="225.50" x2="198.10" y2="225.50" stroke="#111" stroke-width="1.1"/>
<rect x="202.70" y="232.83" width="5.00" height="8.27" fill="#4f2466" stroke="#3a1250" stroke-width="0.6"/>
<line x1="205.50" y1="230.54" x2="205.50" y2="234.52" stroke="#111" stroke-width="1.1"/>
<line x1="203.90" y1="230.50" x2="206.50" y2="230.50" stroke="#111" stroke-width="1.1"/>
<line x1="203.90" y1="234.50" x2="206.50" y2="234.50" stroke="#111" stroke-width="1.1"/>
<rect x="216.50" y="195.65" width="5.00" height="45.45" fill="#a50f2d" stroke="#8c0a24" stroke-width="0.6"/>
<line x1="219.50" y1="193.36" x2="219.50" y2="197.34" stroke="#111" stroke-width="1.1"/>
<line x1="217.70" y1="193.50" x2="220.30" y2="193.50" stroke="#111" stroke-width="1.1"/>
<line x1="217.70" y1="197.50" x2="220.30" y2="197.50" stroke="#111" stroke-width="1.1"/>
<rect x="224.80" y="203.76" width="5.00" height="37.34" fill="#a50f2d" stroke="#8c0a24" stroke-width="0.6"/>
<line x1="227.50" y1="201.47" x2="227.50" y2="205.45" stroke="#111" stroke-width="1.1"/>
<line x1="226.00" y1="201.50" x2="228.60" y2="201.50" stroke="#111" stroke-width="1.1"/>
<line x1="226.00" y1="205.50" x2="228.60" y2="205.50" stroke="#111" stroke-width="1.1"/>
<rect x="233.10" y="222.28" width="5.00" height="18.82" fill="#4f2466" stroke="#3a1250" stroke-width="0.6"/>
<line x1="235.50" y1="220.44" x2="235.50" y2="223.50" stroke="#111" stroke-width="1.1"/>
<line x1="234.30" y1="220.50" x2="236.90" y2="220.50" stroke="#111" stroke-width="1.1"/>
<line x1="234.30" y1="223.50" x2="236.90" y2="223.50" stroke="#111" stroke-width="1.1"/>
<line x1="188.30" y1="218.50" x2="196.60" y2="218.50" stroke="#111" stroke-width="0.9"/>
<polyline points="192.50,218.00 192.50,212.50 205.50,212.50 205.50,217.70" stroke="#111" stroke-width="1.0" fill="none" stroke-linejoin="miter"/>
<circle cx="196.30" cy="209.90" r="0.85" fill="#222"/>
<circle cx="198.90" cy="209.90" r="0.85" fill="#222"/>
<circle cx="201.50" cy="209.90" r="0.85" fill="#222"/>
<line x1="218.90" y1="190.50" x2="227.00" y2="190.50" stroke="#111" stroke-width="0.9"/>
<polyline points="223.50,190.90 223.50,185.50 235.50,185.50 235.50,190.60" stroke="#111" stroke-width="1.0" fill="none" stroke-linejoin="miter"/>
<circle cx="225.90" cy="182.30" r="0.85" fill="#222"/>
<circle cx="228.50" cy="182.30" r="0.85" fill="#222"/>
<circle cx="231.10" cy="182.30" r="0.85" fill="#222"/>
<circle cx="233.70" cy="182.30" r="0.85" fill="#222"/>
<text x="196.90" y="265.70" font-size="9.6" fill="#1c1c1c" stroke="#1c1c1c" stroke-width="0.22" text-anchor="middle" textLength="64.80" lengthAdjust="spacingAndGlyphs">Incubation time, min</text>
<text x="132.20" y="214.90" font-size="9.6" fill="#1c1c1c" stroke="#1c1c1c" stroke-width="0.22" text-anchor="middle" textLength="59.80" lengthAdjust="spacingAndGlyphs" transform="rotate(-90 132.20 214.90)">% of CD107a<tspan baseline-shift="super" font-size="7">+</tspan> cells</text>
<line x1="127.50" y1="181.20" x2="127.50" y2="174.70" stroke="#111" stroke-width="1.0"/>
<polygon points="127.80,170.00 125.35,175.20 130.25,175.20" fill="#111"/>
<rect x="153.70" y="170.10" width="7.20" height="3.80" fill="#a50f2d"/>
<text x="163.70" y="174.20" font-size="6.4" fill="#1c1c1c" textLength="13.50" lengthAdjust="spacingAndGlyphs">ND_1</text>
<rect x="153.70" y="179.30" width="7.20" height="3.80" fill="#a50f2d"/>
<text x="163.70" y="183.40" font-size="6.4" fill="#1c1c1c" textLength="13.50" lengthAdjust="spacingAndGlyphs">ND_2</text>
<rect x="153.70" y="188.10" width="7.20" height="3.80" fill="#4f2466"/>
<text x="163.70" y="192.20" font-size="6.4" fill="#1c1c1c" textLength="17.70" lengthAdjust="spacingAndGlyphs">Patient</text>
<line x1="298.30" y1="160.60" x2="298.30" y2="241.60" stroke="#1a1a1a" stroke-width="1.4"/>
<line x1="295.30" y1="241.50" x2="298.30" y2="241.50" stroke="#1a1a1a" stroke-width="1.26"/>
<text x="292.20" y="243.50" font-size="7.0" fill="#1c1c1c" text-anchor="end">0</text>
<line x1="295.30" y1="225.50" x2="298.30" y2="225.50" stroke="#1a1a1a" stroke-width="1.26"/>
<text x="292.20" y="227.88" font-size="7.0" fill="#1c1c1c" text-anchor="end">20</text>
<line x1="295.30" y1="209.50" x2="298.30" y2="209.50" stroke="#1a1a1a" stroke-width="1.26"/>
<text x="292.20" y="212.26" font-size="7.0" fill="#1c1c1c" text-anchor="end">40</text>
<line x1="295.30" y1="194.50" x2="298.30" y2="194.50" stroke="#1a1a1a" stroke-width="1.26"/>
<text x="292.20" y="196.64" font-size="7.0" fill="#1c1c1c" text-anchor="end">60</text>
<line x1="295.30" y1="178.50" x2="298.30" y2="178.50" stroke="#1a1a1a" stroke-width="1.26"/>
<text x="292.20" y="181.02" font-size="7.0" fill="#1c1c1c" text-anchor="end">80</text>
<line x1="295.30" y1="163.50" x2="298.30" y2="163.50" stroke="#1a1a1a" stroke-width="1.26"/>
<text x="292.20" y="165.40" font-size="7.0" fill="#1c1c1c" text-anchor="end">100</text>
<line x1="297.80" y1="241.00" x2="371.30" y2="241.00" stroke="#1a1a1a" stroke-width="1.4"/>
<line x1="307.50" y1="241.00" x2="307.50" y2="244.00" stroke="#1a1a1a" stroke-width="1.26"/>
<text x="307.50" y="253.50" font-size="7.0" fill="#1c1c1c" text-anchor="middle">0</text>
<line x1="325.50" y1="241.00" x2="325.50" y2="244.00" stroke="#1a1a1a" stroke-width="1.26"/>
<text x="325.50" y="253.50" font-size="7.0" fill="#1c1c1c" text-anchor="middle">0.5:1</text>
<line x1="344.50" y1="241.00" x2="344.50" y2="244.00" stroke="#1a1a1a" stroke-width="1.26"/>
<text x="344.00" y="253.50" font-size="7.0" fill="#1c1c1c" text-anchor="middle">1:1</text>
<line x1="362.50" y1="241.00" x2="362.50" y2="244.00" stroke="#1a1a1a" stroke-width="1.26"/>
<text x="362.30" y="253.50" font-size="7.0" fill="#1c1c1c" text-anchor="middle">2:1</text>
<text x="334.10" y="265.70" font-size="9.5" fill="#1c1c1c" stroke="#1c1c1c" stroke-width="0.22" text-anchor="middle" textLength="24.80" lengthAdjust="spacingAndGlyphs">E:T ratio</text>
<text x="275.00" y="200.40" font-size="9.4" fill="#1c1c1c" stroke="#1c1c1c" stroke-width="0.22" text-anchor="middle" textLength="53.80" lengthAdjust="spacingAndGlyphs" transform="rotate(-90 275.00 200.40)">% of specific lysis</text>
<polyline points="307.50,241.10 325.50,170.65 344.00,168.62 362.30,170.03" stroke="#a50f2d" stroke-width="1.3" fill="none" stroke-linejoin="miter"/>
<polyline points="307.50,241.10 325.50,211.89 344.00,184.63 362.30,175.65" stroke="#2d4f88" stroke-width="1.3" fill="none" stroke-linejoin="miter"/>
<circle cx="307.50" cy="241.10" r="1.90" fill="#2d4f88"/>
<line x1="325.50" y1="209.94" x2="325.50" y2="213.84" stroke="#2d4f88" stroke-width="1.1"/>
<line x1="324.00" y1="209.50" x2="327.00" y2="209.50" stroke="#2d4f88" stroke-width="1.1"/>
<line x1="324.00" y1="213.50" x2="327.00" y2="213.50" stroke="#2d4f88" stroke-width="1.1"/>
<circle cx="325.50" cy="211.89" r="1.90" fill="#2d4f88"/>
<line x1="344.50" y1="182.29" x2="344.50" y2="186.98" stroke="#2d4f88" stroke-width="1.1"/>
<line x1="342.50" y1="182.50" x2="345.50" y2="182.50" stroke="#2d4f88" stroke-width="1.1"/>
<line x1="342.50" y1="186.50" x2="345.50" y2="186.50" stroke="#2d4f88" stroke-width="1.1"/>
<circle cx="344.00" cy="184.63" r="1.90" fill="#2d4f88"/>
<line x1="362.50" y1="174.87" x2="362.50" y2="176.43" stroke="#2d4f88" stroke-width="1.1"/>
<line x1="360.80" y1="174.50" x2="363.80" y2="174.50" stroke="#2d4f88" stroke-width="1.1"/>
<line x1="360.80" y1="176.50" x2="363.80" y2="176.50" stroke="#2d4f88" stroke-width="1.1"/>
<circle cx="362.30" cy="175.65" r="1.90" fill="#2d4f88"/>
<rect x="305.55" y="239.15" width="3.90" height="3.90" fill="#fff" stroke="#a50f2d" stroke-width="1.25"/>
<rect x="323.55" y="168.70" width="3.90" height="3.90" fill="#fff" stroke="#a50f2d" stroke-width="1.25"/>
<rect x="342.05" y="166.67" width="3.90" height="3.90" fill="#fff" stroke="#a50f2d" stroke-width="1.25"/>
<rect x="360.35" y="168.08" width="3.90" height="3.90" fill="#fff" stroke="#a50f2d" stroke-width="1.25"/>
<circle cx="325.50" cy="165.50" r="0.85" fill="#222"/>
<circle cx="344.00" cy="163.00" r="0.85" fill="#222"/>
<circle cx="362.30" cy="165.20" r="0.85" fill="#222"/>
<rect x="337.40" y="220.00" width="4.40" height="4.40" fill="#fff" stroke="#a50f2d" stroke-width="1.2"/>
<text x="345.20" y="224.50" font-size="6.6" fill="#1c1c1c" textLength="8.50" lengthAdjust="spacingAndGlyphs">WT</text>
<circle cx="339.60" cy="231.90" r="2.10" fill="#2d4f88"/>
<text x="345.20" y="234.50" font-size="6.6" fill="#1c1c1c" textLength="26.60" lengthAdjust="spacingAndGlyphs"><tspan font-style="italic">RHOG</tspan> KO</text>
<line x1="405.00" y1="166.70" x2="405.00" y2="241.60" stroke="#1a1a1a" stroke-width="1.6"/>
<line x1="402.00" y1="241.10" x2="405.00" y2="241.10" stroke="#1a1a1a" stroke-width="1.4400000000000002"/>
<text x="398.80" y="243.50" font-size="7.2" fill="#1c1c1c" text-anchor="end">0</text>
<line x1="402.00" y1="223.10" x2="405.00" y2="223.10" stroke="#1a1a1a" stroke-width="1.4400000000000002"/>
<text x="398.80" y="225.50" font-size="7.2" fill="#1c1c1c" text-anchor="end">5</text>
<line x1="402.00" y1="205.10" x2="405.00" y2="205.10" stroke="#1a1a1a" stroke-width="1.4400000000000002"/>
<text x="398.80" y="207.50" font-size="7.2" fill="#1c1c1c" text-anchor="end">10</text>
<line x1="402.00" y1="187.10" x2="405.00" y2="187.10" stroke="#1a1a1a" stroke-width="1.4400000000000002"/>
<text x="398.80" y="189.50" font-size="7.2" fill="#1c1c1c" text-anchor="end">15</text>
<line x1="402.00" y1="169.10" x2="405.00" y2="169.10" stroke="#1a1a1a" stroke-width="1.4400000000000002"/>
<text x="398.80" y="171.50" font-size="7.2" fill="#1c1c1c" text-anchor="end">20</text>
<line x1="404.70" y1="241.00" x2="512.40" y2="241.00" stroke="#1a1a1a" stroke-width="1.6"/>
<line x1="422.70" y1="241.00" x2="422.70" y2="244.00" stroke="#1a1a1a" stroke-width="1.4400000000000002"/>
<text x="422.70" y="253.50" font-size="7.0" fill="#1c1c1c" text-anchor="middle">0</text>
<line x1="458.50" y1="241.00" x2="458.50" y2="244.00" stroke="#1a1a1a" stroke-width="1.4400000000000002"/>
<text x="458.50" y="253.50" font-size="7.0" fill="#1c1c1c" text-anchor="middle">30</text>
<line x1="494.30" y1="241.00" x2="494.30" y2="244.00" stroke="#1a1a1a" stroke-width="1.4400000000000002"/>
<text x="494.30" y="253.50" font-size="7.0" fill="#1c1c1c" text-anchor="middle">60</text>
<rect x="411.90" y="240.14" width="8.40" height="0.96" fill="#a50f2d" stroke="#8c0a24" stroke-width="0.6"/>
<line x1="416.50" y1="239.30" x2="416.50" y2="240.38" stroke="#111" stroke-width="1.1"/>
<line x1="414.00" y1="239.50" x2="418.20" y2="239.50" stroke="#111" stroke-width="1.1"/>
<line x1="414.00" y1="240.50" x2="418.20" y2="240.50" stroke="#111" stroke-width="1.1"/>
<rect x="425.40" y="241.40" width="8.40" height="0.00" fill="#2d4f88" stroke="#1e3a6c" stroke-width="0.6"/>
<rect x="447.90" y="202.52" width="8.40" height="38.58" fill="#a50f2d" stroke="#8c0a24" stroke-width="0.6"/>
<line x1="452.50" y1="196.82" x2="452.50" y2="207.62" stroke="#111" stroke-width="1.1"/>
<line x1="450.00" y1="196.50" x2="454.20" y2="196.50" stroke="#111" stroke-width="1.1"/>
<line x1="450.00" y1="207.50" x2="454.20" y2="207.50" stroke="#111" stroke-width="1.1"/>
<rect x="461.40" y="233.12" width="8.40" height="7.98" fill="#2d4f88" stroke="#1e3a6c" stroke-width="0.6"/>
<line x1="465.50" y1="229.58" x2="465.50" y2="236.06" stroke="#111" stroke-width="1.1"/>
<line x1="463.50" y1="229.50" x2="467.70" y2="229.50" stroke="#111" stroke-width="1.1"/>
<line x1="463.50" y1="236.50" x2="467.70" y2="236.50" stroke="#111" stroke-width="1.1"/>
<rect x="483.60" y="184.52" width="8.40" height="56.58" fill="#a50f2d" stroke="#8c0a24" stroke-width="0.6"/>
<line x1="487.50" y1="178.46" x2="487.50" y2="189.98" stroke="#111" stroke-width="1.1"/>
<line x1="485.70" y1="178.50" x2="489.90" y2="178.50" stroke="#111" stroke-width="1.1"/>
<line x1="485.70" y1="189.50" x2="489.90" y2="189.50" stroke="#111" stroke-width="1.1"/>
<rect x="497.20" y="226.10" width="8.40" height="15.00" fill="#2d4f88" stroke="#1e3a6c" stroke-width="0.6"/>
<line x1="501.50" y1="222.56" x2="501.50" y2="229.04" stroke="#111" stroke-width="1.1"/>
<line x1="499.30" y1="222.50" x2="503.50" y2="222.50" stroke="#111" stroke-width="1.1"/>
<line x1="499.30" y1="229.50" x2="503.50" y2="229.50" stroke="#111" stroke-width="1.1"/>
<polyline points="452.50,194.00 452.50,191.50 465.50,191.50 465.50,194.00" stroke="#111" stroke-width="1.0" fill="none" stroke-linejoin="miter"/>
<circle cx="454.70" cy="188.20" r="0.85" fill="#222"/>
<circle cx="457.30" cy="188.20" r="0.85" fill="#222"/>
<circle cx="459.90" cy="188.20" r="0.85" fill="#222"/>
<circle cx="462.50" cy="188.20" r="0.85" fill="#222"/>
<polyline points="488.50,176.00 488.50,173.50 500.50,173.50 500.50,176.00" stroke="#111" stroke-width="1.0" fill="none" stroke-linejoin="miter"/>
<circle cx="490.60" cy="170.70" r="0.85" fill="#222"/>
<circle cx="493.20" cy="170.70" r="0.85" fill="#222"/>
<circle cx="495.80" cy="170.70" r="0.85" fill="#222"/>
<circle cx="498.40" cy="170.70" r="0.85" fill="#222"/>
<text x="458.85" y="266.00" font-size="9.6" fill="#1c1c1c" stroke="#1c1c1c" stroke-width="0.22" text-anchor="middle" textLength="65.30" lengthAdjust="spacingAndGlyphs">Incubation time, min</text>
<text x="385.80" y="203.50" font-size="10.0" fill="#1c1c1c" stroke="#1c1c1c" stroke-width="0.22" text-anchor="middle" textLength="61.30" lengthAdjust="spacingAndGlyphs" transform="rotate(-90 385.80 203.50)">% of CD107a<tspan baseline-shift="super" font-size="7">+</tspan> cells</text>
<rect x="411.20" y="167.20" width="7.60" height="3.80" fill="#a50f2d"/>
<text x="422.30" y="171.40" font-size="6.4" fill="#1c1c1c" textLength="8.50" lengthAdjust="spacingAndGlyphs">WT</text>
<rect x="411.20" y="176.80" width="7.60" height="3.80" fill="#2d4f88"/>
<text x="422.30" y="181.00" font-size="6.4" fill="#1c1c1c" textLength="26.00" lengthAdjust="spacingAndGlyphs"><tspan font-style="italic">RHOG</tspan> KO</text>
<line x1="47.60" y1="307.10" x2="47.60" y2="384.60" stroke="#1a1a1a" stroke-width="1.4"/>
<line x1="44.60" y1="384.50" x2="47.60" y2="384.50" stroke="#1a1a1a" stroke-width="1.26"/>
<text x="41.10" y="386.50" font-size="7.0" fill="#1c1c1c" text-anchor="end">0</text>
<line x1="44.60" y1="359.50" x2="47.60" y2="359.50" stroke="#1a1a1a" stroke-width="1.26"/>
<text x="41.10" y="361.70" font-size="7.0" fill="#1c1c1c" text-anchor="end">0.5</text>
<line x1="44.60" y1="334.50" x2="47.60" y2="334.50" stroke="#1a1a1a" stroke-width="1.26"/>
<text x="41.10" y="336.90" font-size="7.0" fill="#1c1c1c" text-anchor="end">1.0</text>
<line x1="44.60" y1="309.50" x2="47.60" y2="309.50" stroke="#1a1a1a" stroke-width="1.26"/>
<text x="41.10" y="312.10" font-size="7.0" fill="#1c1c1c" text-anchor="end">1.5</text>
<line x1="47.10" y1="384.00" x2="155.00" y2="384.00" stroke="#1a1a1a" stroke-width="1.4"/>
<line x1="69.50" y1="384.00" x2="69.50" y2="387.00" stroke="#1a1a1a" stroke-width="1.0"/>
<line x1="103.50" y1="384.00" x2="103.50" y2="387.00" stroke="#1a1a1a" stroke-width="1.0"/>
<line x1="137.50" y1="384.00" x2="137.50" y2="387.00" stroke="#1a1a1a" stroke-width="1.0"/>
<rect x="59.5" y="334.4" width="21.0" height="49.6" fill="#c87f74" stroke="#b86a60" stroke-width="0.6"/>
<rect x="92.70" y="347.90" width="21.50" height="36.10" fill="#c6cbe2"/>
<rect x="125.90" y="351.10" width="22.20" height="32.90" fill="#c6cbe2"/>
<circle cx="60.00" cy="334.30" r="1.30" fill="#a50f2b"/>
<circle cx="62.52" cy="334.30" r="1.30" fill="#a50f2b"/>
<circle cx="65.04" cy="334.30" r="1.30" fill="#a50f2b"/>
<circle cx="67.56" cy="334.30" r="1.30" fill="#a50f2b"/>
<circle cx="70.08" cy="334.30" r="1.30" fill="#a50f2b"/>
<circle cx="72.60" cy="334.30" r="1.30" fill="#a50f2b"/>
<circle cx="75.12" cy="334.30" r="1.30" fill="#a50f2b"/>
<circle cx="77.64" cy="334.30" r="1.30" fill="#a50f2b"/>
<circle cx="80.16" cy="334.30" r="1.30" fill="#a50f2b"/>
<line x1="103.50" y1="339.40" x2="103.50" y2="354.90" stroke="#3a3a3a" stroke-width="1.3"/>
<line x1="98.70" y1="339.50" x2="108.70" y2="339.50" stroke="#3a3a3a" stroke-width="1.3"/>
<line x1="98.70" y1="354.50" x2="108.70" y2="354.50" stroke="#3a3a3a" stroke-width="1.3"/>
<line x1="137.50" y1="338.80" x2="137.50" y2="361.60" stroke="#3a3a3a" stroke-width="1.3"/>
<line x1="132.10" y1="338.50" x2="142.10" y2="338.50" stroke="#3a3a3a" stroke-width="1.3"/>
<line x1="132.10" y1="361.50" x2="142.10" y2="361.50" stroke="#3a3a3a" stroke-width="1.3"/>
<circle cx="93.50" cy="338.80" r="1.35" fill="#1d3c8c"/>
<circle cx="99.80" cy="343.20" r="1.35" fill="#1d3c8c"/>
<circle cx="106.80" cy="343.30" r="1.35" fill="#1d3c8c"/>
<circle cx="113.20" cy="341.10" r="1.35" fill="#1d3c8c"/>
<circle cx="99.80" cy="351.00" r="1.35" fill="#1d3c8c"/>
<circle cx="106.80" cy="352.10" r="1.35" fill="#1d3c8c"/>
<circle cx="113.20" cy="350.40" r="1.35" fill="#1d3c8c"/>
<circle cx="103.70" cy="362.70" r="1.35" fill="#1d3c8c"/>
<circle cx="133.70" cy="337.30" r="1.35" fill="#1d3c8c"/>
<circle cx="140.30" cy="336.30" r="1.35" fill="#1d3c8c"/>
<circle cx="133.70" cy="345.80" r="1.35" fill="#1d3c8c"/>
<circle cx="133.70" cy="356.80" r="1.35" fill="#1d3c8c"/>
<circle cx="140.30" cy="358.50" r="1.35" fill="#1d3c8c"/>
<circle cx="136.90" cy="367.60" r="1.35" fill="#1d3c8c"/>
<line x1="69.10" y1="313.50" x2="103.70" y2="313.50" stroke="#3a3a3a" stroke-width="1.0"/>
<circle cx="85.00" cy="310.40" r="0.85" fill="#222"/>
<circle cx="87.60" cy="310.40" r="0.85" fill="#222"/>
<line x1="69.10" y1="319.60" x2="136.70" y2="319.60" stroke="#666" stroke-width="1.5"/>
<circle cx="122.20" cy="317.10" r="0.85" fill="#222"/>
<text x="102.35" y="300.80" font-size="8.6" fill="#111" stroke="#111" stroke-width="0.18" text-anchor="middle" textLength="36.30" lengthAdjust="spacingAndGlyphs">RhoG KD</text>
<text x="69.80" y="396.40" font-size="7.4" fill="#151515" text-anchor="middle" textLength="15.50" lengthAdjust="spacingAndGlyphs">CTRL</text>
<text x="103.50" y="396.40" font-size="7.4" fill="#151515" text-anchor="middle" textLength="24.00" lengthAdjust="spacingAndGlyphs">siRNA 1</text>
<text x="136.65" y="396.40" font-size="7.4" fill="#151515" text-anchor="middle" textLength="23.50" lengthAdjust="spacingAndGlyphs">siRNA 2</text>
<text x="26.60" y="345.80" font-size="8.7" fill="#1c1c1c" stroke="#1c1c1c" stroke-width="0.22" text-anchor="middle" textLength="42.00" lengthAdjust="spacingAndGlyphs" transform="rotate(-90 26.60 345.80)">RhoG/GAPDH</text>
<line x1="193.50" y1="307.20" x2="193.50" y2="384.70" stroke="#1a1a1a" stroke-width="1.6"/>
<line x1="190.50" y1="384.20" x2="193.50" y2="384.20" stroke="#1a1a1a" stroke-width="1.4400000000000002"/>
<text x="187.30" y="386.60" font-size="7.0" fill="#1c1c1c" text-anchor="end">80</text>
<line x1="190.50" y1="369.30" x2="193.50" y2="369.30" stroke="#1a1a1a" stroke-width="1.4400000000000002"/>
<text x="187.30" y="371.70" font-size="7.0" fill="#1c1c1c" text-anchor="end">85</text>
<line x1="190.50" y1="354.40" x2="193.50" y2="354.40" stroke="#1a1a1a" stroke-width="1.4400000000000002"/>
<text x="187.30" y="356.80" font-size="7.0" fill="#1c1c1c" text-anchor="end">90</text>
<line x1="190.50" y1="339.50" x2="193.50" y2="339.50" stroke="#1a1a1a" stroke-width="1.4400000000000002"/>
<text x="187.30" y="341.90" font-size="7.0" fill="#1c1c1c" text-anchor="end">95</text>
<line x1="190.50" y1="324.60" x2="193.50" y2="324.60" stroke="#1a1a1a" stroke-width="1.4400000000000002"/>
<text x="187.30" y="327.00" font-size="7.0" fill="#1c1c1c" text-anchor="end">100</text>
<line x1="190.50" y1="309.70" x2="193.50" y2="309.70" stroke="#1a1a1a" stroke-width="1.4400000000000002"/>
<text x="187.30" y="312.10" font-size="7.0" fill="#1c1c1c" text-anchor="end">105</text>
<line x1="193.00" y1="384.20" x2="307.90" y2="384.20" stroke="#1a1a1a" stroke-width="1.6"/>
<line x1="193.50" y1="384.20" x2="193.50" y2="387.20" stroke="#1a1a1a" stroke-width="1.4400000000000002"/>
<text x="193.50" y="396.80" font-size="7.0" fill="#1c1c1c" text-anchor="middle">0.0</text>
<line x1="212.08" y1="384.20" x2="212.08" y2="387.20" stroke="#1a1a1a" stroke-width="1.4400000000000002"/>
<text x="212.08" y="396.80" font-size="7.0" fill="#1c1c1c" text-anchor="middle">0.2</text>
<line x1="230.66" y1="384.20" x2="230.66" y2="387.20" stroke="#1a1a1a" stroke-width="1.4400000000000002"/>
<text x="230.66" y="396.80" font-size="7.0" fill="#1c1c1c" text-anchor="middle">0.4</text>
<line x1="249.24" y1="384.20" x2="249.24" y2="387.20" stroke="#1a1a1a" stroke-width="1.4400000000000002"/>
<text x="249.24" y="396.80" font-size="7.0" fill="#1c1c1c" text-anchor="middle">0.6</text>
<line x1="267.82" y1="384.20" x2="267.82" y2="387.20" stroke="#1a1a1a" stroke-width="1.4400000000000002"/>
<text x="267.82" y="396.80" font-size="7.0" fill="#1c1c1c" text-anchor="middle">0.8</text>
<line x1="286.40" y1="384.20" x2="286.40" y2="387.20" stroke="#1a1a1a" stroke-width="1.4400000000000002"/>
<text x="286.40" y="396.80" font-size="7.0" fill="#1c1c1c" text-anchor="middle">1.0</text>
<line x1="304.98" y1="384.20" x2="304.98" y2="387.20" stroke="#1a1a1a" stroke-width="1.4400000000000002"/>
<text x="304.98" y="396.80" font-size="7.0" fill="#1c1c1c" text-anchor="middle">1.2</text>
<circle cx="234.10" cy="357.38" r="1.25" fill="#a3102a"/>
<circle cx="251.56" cy="352.31" r="1.25" fill="#a3102a"/>
<circle cx="254.54" cy="338.31" r="1.25" fill="#a3102a"/>
<circle cx="256.39" cy="348.74" r="1.25" fill="#a3102a"/>
<circle cx="270.33" cy="362.15" r="1.25" fill="#a3102a"/>
<circle cx="271.16" cy="331.60" r="1.25" fill="#a3102a"/>
<circle cx="274.14" cy="326.39" r="1.25" fill="#a3102a"/>
<circle cx="276.09" cy="355.29" r="1.25" fill="#a3102a"/>
<circle cx="278.97" cy="372.58" r="1.25" fill="#a3102a"/>
<circle cx="286.40" cy="324.90" r="1.25" fill="#a3102a"/>
<line x1="234.10" y1="362.60" x2="286.40" y2="330.30" stroke="#a3102a" stroke-width="1.1"/>
<rect x="196.40" y="310.40" width="48.20" height="18.00" fill="none" stroke="#111" stroke-width="1.0"/>
<text x="202.70" y="317.40" font-size="5.6" fill="#1c1c1c" textLength="25.50" lengthAdjust="spacingAndGlyphs">R: 0.3638</text>
<text x="202.70" y="324.40" font-size="5.6" fill="#1c1c1c" textLength="36.00" lengthAdjust="spacingAndGlyphs">p value: 0.008</text>
<text x="250.20" y="301.40" font-size="9.6" fill="#111" stroke="#111" stroke-width="0.18" text-anchor="middle" textLength="31.20" lengthAdjust="spacingAndGlyphs">siRNA 1</text>
<text x="250.70" y="408.80" font-size="9.0" fill="#1c1c1c" text-anchor="middle" textLength="89.80" lengthAdjust="spacingAndGlyphs">Normalized RhoG expression</text>
<line x1="330.60" y1="307.20" x2="330.60" y2="384.70" stroke="#1a1a1a" stroke-width="1.6"/>
<line x1="327.60" y1="384.20" x2="330.60" y2="384.20" stroke="#1a1a1a" stroke-width="1.4400000000000002"/>
<text x="324.40" y="386.60" font-size="7.0" fill="#1c1c1c" text-anchor="end">80</text>
<line x1="327.60" y1="369.30" x2="330.60" y2="369.30" stroke="#1a1a1a" stroke-width="1.4400000000000002"/>
<text x="324.40" y="371.70" font-size="7.0" fill="#1c1c1c" text-anchor="end">85</text>
<line x1="327.60" y1="354.40" x2="330.60" y2="354.40" stroke="#1a1a1a" stroke-width="1.4400000000000002"/>
<text x="324.40" y="356.80" font-size="7.0" fill="#1c1c1c" text-anchor="end">90</text>
<line x1="327.60" y1="339.50" x2="330.60" y2="339.50" stroke="#1a1a1a" stroke-width="1.4400000000000002"/>
<text x="324.40" y="341.90" font-size="7.0" fill="#1c1c1c" text-anchor="end">95</text>
<line x1="327.60" y1="324.60" x2="330.60" y2="324.60" stroke="#1a1a1a" stroke-width="1.4400000000000002"/>
<text x="324.40" y="327.00" font-size="7.0" fill="#1c1c1c" text-anchor="end">100</text>
<line x1="327.60" y1="309.70" x2="330.60" y2="309.70" stroke="#1a1a1a" stroke-width="1.4400000000000002"/>
<text x="324.40" y="312.10" font-size="7.0" fill="#1c1c1c" text-anchor="end">105</text>
<line x1="330.10" y1="384.20" x2="445.00" y2="384.20" stroke="#1a1a1a" stroke-width="1.6"/>
<line x1="330.60" y1="384.20" x2="330.60" y2="387.20" stroke="#1a1a1a" stroke-width="1.4400000000000002"/>
<text x="330.60" y="396.80" font-size="7.0" fill="#1c1c1c" text-anchor="middle">0.0</text>
<line x1="349.18" y1="384.20" x2="349.18" y2="387.20" stroke="#1a1a1a" stroke-width="1.4400000000000002"/>
<text x="349.18" y="396.80" font-size="7.0" fill="#1c1c1c" text-anchor="middle">0.2</text>
<line x1="367.76" y1="384.20" x2="367.76" y2="387.20" stroke="#1a1a1a" stroke-width="1.4400000000000002"/>
<text x="367.76" y="396.80" font-size="7.0" fill="#1c1c1c" text-anchor="middle">0.4</text>
<line x1="386.34" y1="384.20" x2="386.34" y2="387.20" stroke="#1a1a1a" stroke-width="1.4400000000000002"/>
<text x="386.34" y="396.80" font-size="7.0" fill="#1c1c1c" text-anchor="middle">0.6</text>
<line x1="404.92" y1="384.20" x2="404.92" y2="387.20" stroke="#1a1a1a" stroke-width="1.4400000000000002"/>
<text x="404.92" y="396.80" font-size="7.0" fill="#1c1c1c" text-anchor="middle">0.8</text>
<line x1="423.50" y1="384.20" x2="423.50" y2="387.20" stroke="#1a1a1a" stroke-width="1.4400000000000002"/>
<text x="423.50" y="396.80" font-size="7.0" fill="#1c1c1c" text-anchor="middle">1.0</text>
<line x1="442.08" y1="384.20" x2="442.08" y2="387.20" stroke="#1a1a1a" stroke-width="1.4400000000000002"/>
<text x="442.08" y="396.80" font-size="7.0" fill="#1c1c1c" text-anchor="middle">1.2</text>
<circle cx="362.09" cy="377.05" r="1.25" fill="#a3102a"/>
<circle cx="377.61" cy="363.94" r="1.25" fill="#a3102a"/>
<circle cx="381.51" cy="334.14" r="1.25" fill="#a3102a"/>
<circle cx="398.14" cy="347.25" r="1.25" fill="#a3102a"/>
<circle cx="403.06" cy="329.96" r="1.25" fill="#a3102a"/>
<circle cx="417.93" cy="338.61" r="1.25" fill="#a3102a"/>
<circle cx="419.78" cy="329.67" r="1.25" fill="#a3102a"/>
<circle cx="423.50" cy="324.90" r="1.25" fill="#a3102a"/>
<line x1="362.09" y1="367.90" x2="423.50" y2="325.50" stroke="#a3102a" stroke-width="1.1"/>
<rect x="333.50" y="309.70" width="54.90" height="18.10" fill="none" stroke="#111" stroke-width="1.0"/>
<text x="339.80" y="316.70" font-size="5.6" fill="#1c1c1c" textLength="25.50" lengthAdjust="spacingAndGlyphs">R: 0.7896</text>
<text x="339.80" y="323.70" font-size="5.6" fill="#1c1c1c" textLength="42.50" lengthAdjust="spacingAndGlyphs">p value: <0.0001</text>
<text x="388.05" y="301.40" font-size="9.6" fill="#111" stroke="#111" stroke-width="0.18" text-anchor="middle" textLength="32.10" lengthAdjust="spacingAndGlyphs">siRNA 2</text>
<text x="387.85" y="408.80" font-size="9.0" fill="#1c1c1c" text-anchor="middle" textLength="89.70" lengthAdjust="spacingAndGlyphs">Normalized RhoG expression</text>
<text x="170.30" y="346.40" font-size="8.4" fill="#1c1c1c" stroke="#1c1c1c" stroke-width="0.22" text-anchor="middle" textLength="90.80" lengthAdjust="spacingAndGlyphs" transform="rotate(-90 170.30 346.40)">% CD107a normalized to ctrl</text>
<line x1="47.40" y1="450.70" x2="47.40" y2="563.60" stroke="#1a1a1a" stroke-width="1.4"/>
<line x1="44.40" y1="563.50" x2="47.40" y2="563.50" stroke="#1a1a1a" stroke-width="1.26"/>
<text x="41.60" y="565.50" font-size="7.0" fill="#1c1c1c" text-anchor="end">0</text>
<line x1="44.40" y1="541.50" x2="47.40" y2="541.50" stroke="#1a1a1a" stroke-width="1.26"/>
<text x="41.60" y="543.58" font-size="7.0" fill="#1c1c1c" text-anchor="end">20</text>
<line x1="44.40" y1="519.50" x2="47.40" y2="519.50" stroke="#1a1a1a" stroke-width="1.26"/>
<text x="41.60" y="521.66" font-size="7.0" fill="#1c1c1c" text-anchor="end">40</text>
<line x1="44.40" y1="497.50" x2="47.40" y2="497.50" stroke="#1a1a1a" stroke-width="1.26"/>
<text x="41.60" y="499.74" font-size="7.0" fill="#1c1c1c" text-anchor="end">60</text>
<line x1="44.40" y1="475.50" x2="47.40" y2="475.50" stroke="#1a1a1a" stroke-width="1.26"/>
<text x="41.60" y="477.82" font-size="7.0" fill="#1c1c1c" text-anchor="end">80</text>
<line x1="44.40" y1="453.50" x2="47.40" y2="453.50" stroke="#1a1a1a" stroke-width="1.26"/>
<text x="41.60" y="455.90" font-size="7.0" fill="#1c1c1c" text-anchor="end">100</text>
<line x1="46.90" y1="563.00" x2="141.30" y2="563.00" stroke="#1a1a1a" stroke-width="1.4"/>
<line x1="71.50" y1="563.00" x2="71.50" y2="566.00" stroke="#1a1a1a" stroke-width="1.26"/>
<text x="71.10" y="574.50" font-size="7.0" fill="#1c1c1c" text-anchor="middle">2</text>
<line x1="118.50" y1="563.00" x2="118.50" y2="566.00" stroke="#1a1a1a" stroke-width="1.26"/>
<text x="118.00" y="574.50" font-size="7.0" fill="#1c1c1c" text-anchor="middle">5</text>
<rect x="54.20" y="469.14" width="7.90" height="93.96" fill="#e0901c" stroke="#c87a10" stroke-width="0.6"/>
<line x1="58.50" y1="463.36" x2="58.50" y2="474.32" stroke="#111" stroke-width="1.1"/>
<line x1="55.85" y1="463.50" x2="60.45" y2="463.50" stroke="#111" stroke-width="1.1"/>
<line x1="55.85" y1="474.50" x2="60.45" y2="474.50" stroke="#111" stroke-width="1.1"/>
<rect x="67.30" y="494.35" width="7.90" height="68.75" fill="#2f6a4e" stroke="#23533c" stroke-width="0.6"/>
<line x1="71.50" y1="489.67" x2="71.50" y2="498.44" stroke="#111" stroke-width="1.1"/>
<line x1="68.95" y1="489.50" x2="73.55" y2="489.50" stroke="#111" stroke-width="1.1"/>
<line x1="68.95" y1="498.50" x2="73.55" y2="498.50" stroke="#111" stroke-width="1.1"/>
<rect x="80.40" y="538.19" width="7.90" height="24.91" fill="#4c5168" stroke="#3a3e52" stroke-width="0.6"/>
<line x1="84.50" y1="525.84" x2="84.50" y2="549.95" stroke="#111" stroke-width="1.1"/>
<line x1="82.05" y1="525.50" x2="86.65" y2="525.50" stroke="#111" stroke-width="1.1"/>
<line x1="82.05" y1="549.50" x2="86.65" y2="549.50" stroke="#111" stroke-width="1.1"/>
<rect x="101.50" y="463.66" width="7.80" height="99.44" fill="#e0901c" stroke="#c87a10" stroke-width="0.6"/>
<line x1="105.50" y1="461.17" x2="105.50" y2="465.56" stroke="#111" stroke-width="1.1"/>
<line x1="103.10" y1="461.50" x2="107.70" y2="461.50" stroke="#111" stroke-width="1.1"/>
<line x1="103.10" y1="465.50" x2="107.70" y2="465.50" stroke="#111" stroke-width="1.1"/>
<rect x="114.60" y="484.93" width="7.80" height="78.17" fill="#2f6a4e" stroke="#23533c" stroke-width="0.6"/>
<line x1="118.50" y1="482.98" x2="118.50" y2="486.27" stroke="#111" stroke-width="1.1"/>
<line x1="116.20" y1="482.50" x2="120.80" y2="482.50" stroke="#111" stroke-width="1.1"/>
<line x1="116.20" y1="486.50" x2="120.80" y2="486.50" stroke="#111" stroke-width="1.1"/>
<rect x="127.70" y="533.81" width="7.80" height="29.29" fill="#4c5168" stroke="#3a3e52" stroke-width="0.6"/>
<line x1="131.50" y1="529.12" x2="131.50" y2="537.89" stroke="#111" stroke-width="1.1"/>
<line x1="129.30" y1="529.50" x2="133.90" y2="529.50" stroke="#111" stroke-width="1.1"/>
<line x1="129.30" y1="537.50" x2="133.90" y2="537.50" stroke="#111" stroke-width="1.1"/>
<line x1="58.90" y1="455.50" x2="86.00" y2="455.50" stroke="#222" stroke-width="1.0"/>
<circle cx="72.10" cy="451.90" r="0.85" fill="#222"/>
<line x1="72.10" y1="481.50" x2="86.00" y2="481.50" stroke="#222" stroke-width="1.0"/>
<circle cx="79.00" cy="478.70" r="0.85" fill="#222"/>
<line x1="104.80" y1="455.50" x2="131.90" y2="455.50" stroke="#222" stroke-width="1.0"/>
<circle cx="118.20" cy="452.80" r="0.85" fill="#222"/>
<line x1="118.30" y1="476.50" x2="131.90" y2="476.50" stroke="#222" stroke-width="1.0"/>
<circle cx="125.00" cy="474.10" r="0.85" fill="#222"/>
<text x="95.00" y="444.00" font-size="9.6" fill="#111" stroke="#111" stroke-width="0.18" text-anchor="middle" textLength="57.00" lengthAdjust="spacingAndGlyphs">PBMC + P815</text>
<text x="94.70" y="587.80" font-size="9.0" fill="#1c1c1c" text-anchor="middle" textLength="42.00" lengthAdjust="spacingAndGlyphs">αCD3, μg/ml</text>
<text x="24.60" y="506.30" font-size="9.2" fill="#1c1c1c" stroke="#1c1c1c" stroke-width="0.22" text-anchor="middle" textLength="52.70" lengthAdjust="spacingAndGlyphs" transform="rotate(-90 24.60 506.30)">% of specific lysis</text>
<line x1="158.60" y1="459.40" x2="158.60" y2="563.50" stroke="#1a1a1a" stroke-width="1.5"/>
<line x1="155.60" y1="563.00" x2="158.60" y2="563.00" stroke="#1a1a1a" stroke-width="1.35"/>
<text x="152.80" y="565.40" font-size="7.6" fill="#1c1c1c" text-anchor="end">0</text>
<line x1="155.60" y1="537.80" x2="158.60" y2="537.80" stroke="#1a1a1a" stroke-width="1.35"/>
<text x="152.80" y="540.20" font-size="7.6" fill="#1c1c1c" text-anchor="end">20</text>
<line x1="155.60" y1="512.60" x2="158.60" y2="512.60" stroke="#1a1a1a" stroke-width="1.35"/>
<text x="152.80" y="515.00" font-size="7.6" fill="#1c1c1c" text-anchor="end">40</text>
<line x1="155.60" y1="487.40" x2="158.60" y2="487.40" stroke="#1a1a1a" stroke-width="1.35"/>
<text x="152.80" y="489.80" font-size="7.6" fill="#1c1c1c" text-anchor="end">60</text>
<line x1="155.60" y1="462.20" x2="158.60" y2="462.20" stroke="#1a1a1a" stroke-width="1.35"/>
<text x="152.80" y="464.60" font-size="7.6" fill="#1c1c1c" text-anchor="end">80</text>
<line x1="158.10" y1="562.80" x2="252.40" y2="562.80" stroke="#1a1a1a" stroke-width="1.5"/>
<line x1="182.50" y1="562.80" x2="182.50" y2="565.80" stroke="#1a1a1a" stroke-width="1.35"/>
<text x="182.50" y="574.70" font-size="7.0" fill="#1c1c1c" text-anchor="middle">2:1</text>
<line x1="229.50" y1="562.80" x2="229.50" y2="565.80" stroke="#1a1a1a" stroke-width="1.35"/>
<text x="229.50" y="574.70" font-size="7.0" fill="#1c1c1c" text-anchor="middle">10:1</text>
<rect x="165.30" y="546.54" width="8.10" height="16.46" fill="#e0901c" stroke="#c87a10" stroke-width="0.6"/>
<line x1="169.50" y1="539.94" x2="169.50" y2="552.54" stroke="#111" stroke-width="1.1"/>
<line x1="167.05" y1="539.50" x2="171.65" y2="539.50" stroke="#111" stroke-width="1.1"/>
<line x1="167.05" y1="552.50" x2="171.65" y2="552.50" stroke="#111" stroke-width="1.1"/>
<rect x="178.40" y="543.77" width="8.10" height="19.23" fill="#2f6a4e" stroke="#23533c" stroke-width="0.6"/>
<line x1="182.50" y1="540.95" x2="182.50" y2="545.99" stroke="#111" stroke-width="1.1"/>
<line x1="180.15" y1="540.50" x2="184.75" y2="540.50" stroke="#111" stroke-width="1.1"/>
<line x1="180.15" y1="545.50" x2="184.75" y2="545.50" stroke="#111" stroke-width="1.1"/>
<rect x="191.50" y="558.64" width="8.10" height="4.36" fill="#4c5168" stroke="#3a3e52" stroke-width="0.6"/>
<line x1="195.50" y1="556.45" x2="195.50" y2="560.23" stroke="#111" stroke-width="1.1"/>
<line x1="193.25" y1="556.50" x2="197.85" y2="556.50" stroke="#111" stroke-width="1.1"/>
<line x1="193.25" y1="560.50" x2="197.85" y2="560.50" stroke="#111" stroke-width="1.1"/>
<rect x="212.70" y="500.80" width="8.10" height="62.20" fill="#e0901c" stroke="#c87a10" stroke-width="0.6"/>
<line x1="216.50" y1="492.94" x2="216.50" y2="508.06" stroke="#111" stroke-width="1.1"/>
<line x1="214.45" y1="492.50" x2="219.05" y2="492.50" stroke="#111" stroke-width="1.1"/>
<line x1="214.45" y1="508.50" x2="219.05" y2="508.50" stroke="#111" stroke-width="1.1"/>
<rect x="225.45" y="493.50" width="8.10" height="69.50" fill="#2f6a4e" stroke="#23533c" stroke-width="0.6"/>
<line x1="229.50" y1="485.64" x2="229.50" y2="500.76" stroke="#111" stroke-width="1.1"/>
<line x1="227.20" y1="485.50" x2="231.80" y2="485.50" stroke="#111" stroke-width="1.1"/>
<line x1="227.20" y1="500.50" x2="231.80" y2="500.50" stroke="#111" stroke-width="1.1"/>
<rect x="238.20" y="518.44" width="8.10" height="44.56" fill="#4c5168" stroke="#3a3e52" stroke-width="0.6"/>
<line x1="242.50" y1="515.62" x2="242.50" y2="520.66" stroke="#111" stroke-width="1.1"/>
<line x1="239.95" y1="515.50" x2="244.55" y2="515.50" stroke="#111" stroke-width="1.1"/>
<line x1="239.95" y1="520.50" x2="244.55" y2="520.50" stroke="#111" stroke-width="1.1"/>
<line x1="168.00" y1="524.50" x2="194.80" y2="524.50" stroke="#222" stroke-width="1.0"/>
<circle cx="181.50" cy="521.20" r="0.85" fill="#222"/>
<line x1="181.50" y1="535.50" x2="194.80" y2="535.50" stroke="#222" stroke-width="1.0"/>
<circle cx="188.20" cy="532.20" r="0.85" fill="#222"/>
<line x1="215.80" y1="471.50" x2="242.90" y2="471.50" stroke="#222" stroke-width="1.0"/>
<circle cx="229.20" cy="468.90" r="0.85" fill="#222"/>
<line x1="229.20" y1="481.50" x2="242.90" y2="481.50" stroke="#222" stroke-width="1.0"/>
<circle cx="236.20" cy="478.50" r="0.85" fill="#222"/>
<text x="206.00" y="443.80" font-size="9.6" fill="#111" stroke="#111" stroke-width="0.18" text-anchor="middle" textLength="56.80" lengthAdjust="spacingAndGlyphs">PBMC + K562</text>
<text x="205.80" y="587.60" font-size="8.6" fill="#1c1c1c" text-anchor="middle" textLength="25.80" lengthAdjust="spacingAndGlyphs">E:T ratio</text>
<rect x="165.10" y="460.70" width="6.80" height="3.40" fill="#e0901c"/>
<text x="175.00" y="464.10" font-size="6.6" fill="#2a2a2a" textLength="33.10" lengthAdjust="spacingAndGlyphs">no treatment</text>
<rect x="165.10" y="469.70" width="6.80" height="3.40" fill="#2f6a4e"/>
<text x="175.00" y="473.80" font-size="6.6" fill="#2a2a2a" textLength="16.70" lengthAdjust="spacingAndGlyphs">DMSO</text>
<rect x="165.10" y="479.20" width="6.80" height="3.40" fill="#4c5168"/>
<text x="175.00" y="482.70" font-size="6.6" fill="#2a2a2a" textLength="10.90" lengthAdjust="spacingAndGlyphs">ITX3</text>
<line x1="308.30" y1="487.60" x2="308.30" y2="563.30" stroke="#1a1a1a" stroke-width="1.5"/>
<line x1="305.30" y1="562.80" x2="308.30" y2="562.80" stroke="#1a1a1a" stroke-width="1.35"/>
<text x="302.80" y="565.20" font-size="7.6" fill="#1c1c1c" text-anchor="end">0</text>
<line x1="305.30" y1="538.60" x2="308.30" y2="538.60" stroke="#1a1a1a" stroke-width="1.35"/>
<text x="302.80" y="541.00" font-size="7.6" fill="#1c1c1c" text-anchor="end">20</text>
<line x1="305.30" y1="514.40" x2="308.30" y2="514.40" stroke="#1a1a1a" stroke-width="1.35"/>
<text x="302.80" y="516.80" font-size="7.6" fill="#1c1c1c" text-anchor="end">40</text>
<line x1="305.30" y1="490.20" x2="308.30" y2="490.20" stroke="#1a1a1a" stroke-width="1.35"/>
<text x="302.80" y="492.60" font-size="7.6" fill="#1c1c1c" text-anchor="end">60</text>
<line x1="307.80" y1="562.90" x2="386.70" y2="562.90" stroke="#1a1a1a" stroke-width="1.5"/>
<rect x="315.10" y="555.11" width="11.20" height="7.69" fill="#e0901c" stroke="#c87a10" stroke-width="0.6"/>
<line x1="320.50" y1="553.00" x2="320.50" y2="556.63" stroke="#111" stroke-width="1.1"/>
<line x1="317.90" y1="552.50" x2="323.50" y2="552.50" stroke="#111" stroke-width="1.1"/>
<line x1="317.90" y1="556.50" x2="323.50" y2="556.50" stroke="#111" stroke-width="1.1"/>
<rect x="333.20" y="538.05" width="11.20" height="24.75" fill="#2f6a4e" stroke="#23533c" stroke-width="0.6"/>
<line x1="338.50" y1="535.33" x2="338.50" y2="540.17" stroke="#111" stroke-width="1.1"/>
<line x1="336.00" y1="535.50" x2="341.60" y2="535.50" stroke="#111" stroke-width="1.1"/>
<line x1="336.00" y1="540.50" x2="341.60" y2="540.50" stroke="#111" stroke-width="1.1"/>
<rect x="351.30" y="531.16" width="11.20" height="31.64" fill="#8c84c4" stroke="#7a70b2" stroke-width="0.6"/>
<line x1="356.50" y1="527.23" x2="356.50" y2="534.49" stroke="#111" stroke-width="1.1"/>
<line x1="354.10" y1="527.50" x2="359.70" y2="527.50" stroke="#111" stroke-width="1.1"/>
<line x1="354.10" y1="534.50" x2="359.70" y2="534.50" stroke="#111" stroke-width="1.1"/>
<rect x="369.40" y="499.45" width="11.20" height="63.35" fill="#4c5168" stroke="#3a3e52" stroke-width="0.6"/>
<line x1="375.50" y1="496.73" x2="375.50" y2="501.57" stroke="#111" stroke-width="1.1"/>
<line x1="372.20" y1="496.50" x2="377.80" y2="496.50" stroke="#111" stroke-width="1.1"/>
<line x1="372.20" y1="501.50" x2="377.80" y2="501.50" stroke="#111" stroke-width="1.1"/>
<line x1="330.00" y1="566.50" x2="383.90" y2="566.50" stroke="#555" stroke-width="1.0"/>
<text x="320.90" y="575.00" font-size="7.2" fill="#1c1c1c" text-anchor="middle" textLength="12.60" lengthAdjust="spacingAndGlyphs">unst</text>
<text x="357.30" y="575.00" font-size="7.4" fill="#1c1c1c" text-anchor="middle" textLength="21.20" lengthAdjust="spacingAndGlyphs">+ K562</text>
<text x="356.70" y="523.10" font-size="7.0" fill="#1c1c1c" text-anchor="middle" textLength="11.00" lengthAdjust="spacingAndGlyphs">GFP</text>
<line x1="339.20" y1="494.50" x2="357.40" y2="494.50" stroke="#111" stroke-width="1.0"/>
<polyline points="347.50,494.20 347.50,490.50 375.50,490.50 375.50,493.50" stroke="#111" stroke-width="1.0" fill="none" stroke-linejoin="miter"/>
<circle cx="357.80" cy="487.70" r="0.85" fill="#222"/>
<circle cx="360.20" cy="487.70" r="0.85" fill="#222"/>
<circle cx="362.60" cy="487.70" r="0.85" fill="#222"/>
<circle cx="365.00" cy="487.70" r="0.85" fill="#222"/>
<text x="349.20" y="481.50" font-size="9.6" fill="#111" stroke="#111" stroke-width="0.18" text-anchor="middle" textLength="39.20" lengthAdjust="spacingAndGlyphs">RhoG-WT</text>
<text x="289.50" y="525.20" font-size="9.8" fill="#1c1c1c" stroke="#1c1c1c" stroke-width="0.22" text-anchor="middle" textLength="59.80" lengthAdjust="spacingAndGlyphs" transform="rotate(-90 289.50 525.20)">% of CD107a<tspan baseline-shift="super" font-size="7">+</tspan> cells</text>
</svg>
</body></html>
